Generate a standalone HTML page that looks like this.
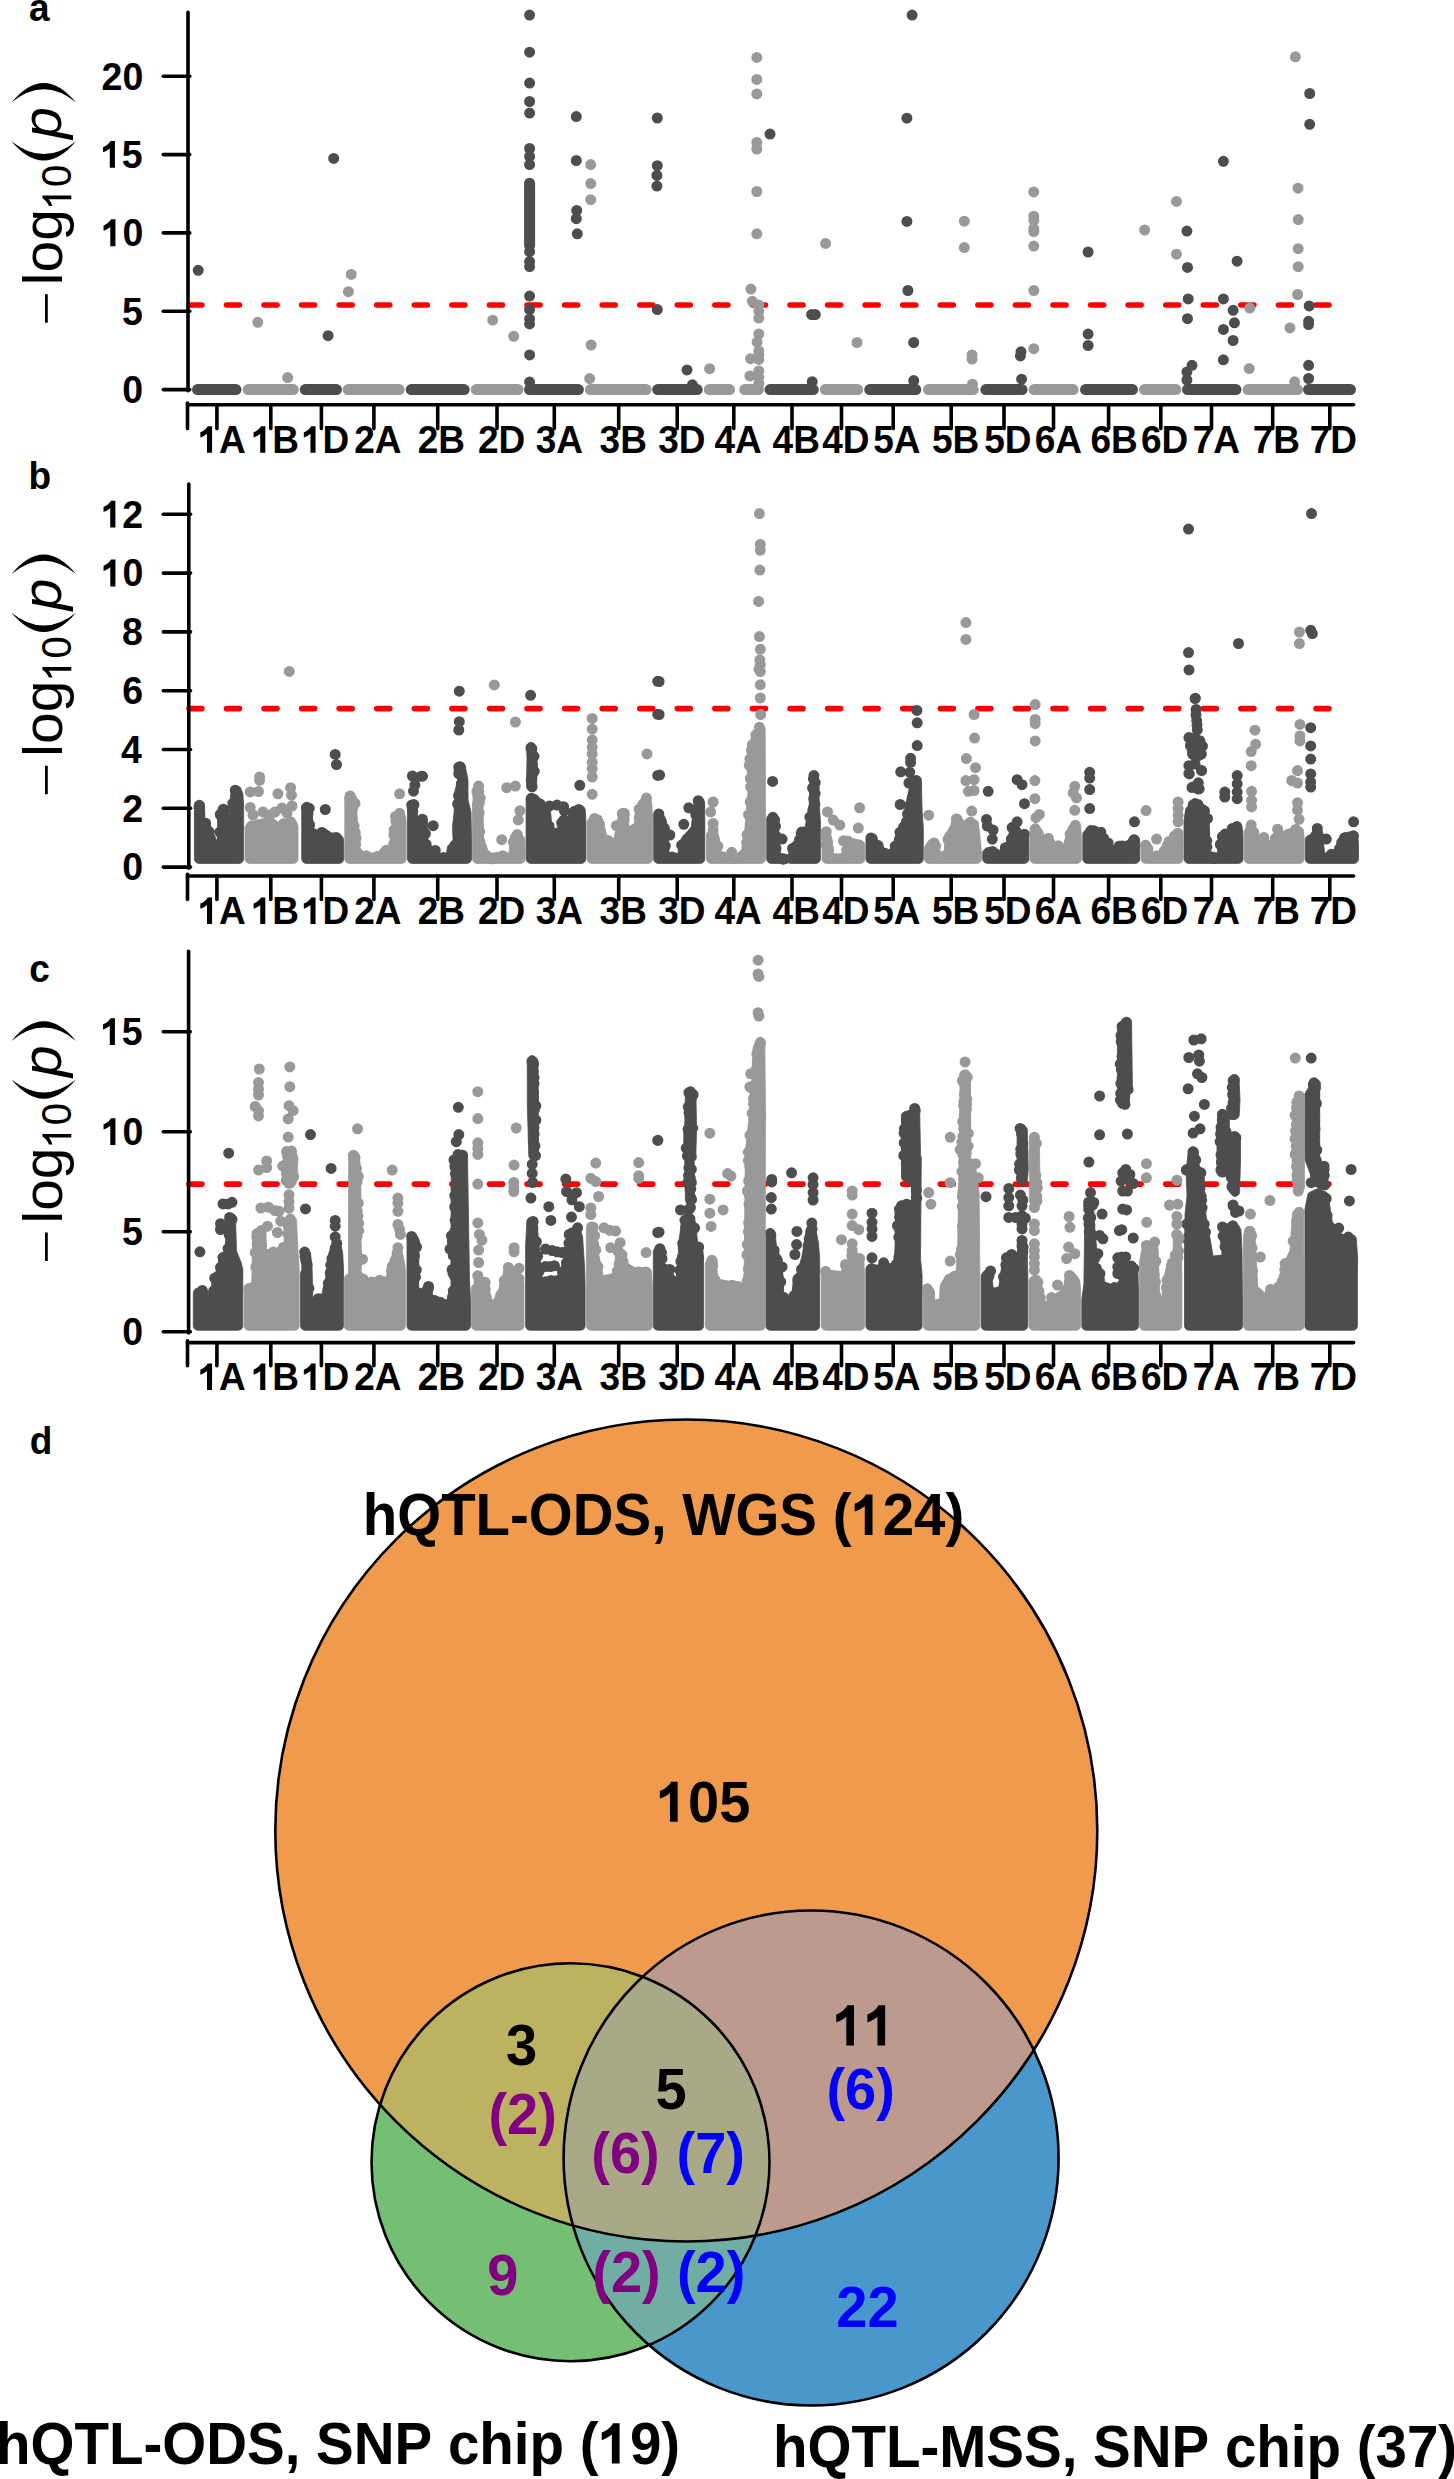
<!DOCTYPE html>
<html><head><meta charset="utf-8"><style>
html,body{margin:0;padding:0;background:#fff;}
svg{display:block;}
</style></head><body>
<svg width="1454" height="2479" viewBox="0 0 1454 2479">
<defs><path id="o1b" d="M759,0L478,0L478,1010C400,935 260,860 110,815L110,1085C300,1150 450,1280 520,1409L759,1409Z"/><path id="o1r" d="M696,0L515,0L515,1100C430,1020 300,960 160,920L160,1090C330,1150 480,1270 560,1409L696,1409Z"/></defs>
<rect width="1454" height="2479" fill="#fff"/>
<line x1="188.9" y1="305.0" x2="1330" y2="305.0" stroke="#ff0000" stroke-width="5.6" stroke-dasharray="13 24.57" stroke-linecap="round"/>
<line x1="188.9" y1="708.6" x2="1330" y2="708.6" stroke="#ff0000" stroke-width="5.6" stroke-dasharray="13 24.57" stroke-linecap="round"/>
<line x1="188.9" y1="1184.1" x2="1330" y2="1184.1" stroke="#ff0000" stroke-width="5.6" stroke-dasharray="13 24.57" stroke-linecap="round"/>
<path d="M528.7,743.0 527.8,743.8 527.1,744.7 526.7,745.8 526.6,747.0 527.0,758.8 527.0,758.9 526.5,786.1 526.6,787.2 527.0,788.3 527.7,789.2 528.5,789.9 529.5,790.6 530.6,791.1 531.8,791.4 532.9,791.3 534.1,790.9 535.0,790.2 535.8,789.3 536.3,788.2 536.5,787.1 537.5,765.8 537.5,765.1 536.4,755.7 536.4,755.4 536.4,747.6 536.2,746.4 535.7,745.3 534.9,744.3 534.1,743.6 533.2,742.9 532.1,742.5 530.9,742.4 529.8,742.5ZM810.7,783.9 810.7,783.9 810.8,783.8 810.8,783.8 811.7,783.1 811.8,783.1 811.8,783.1 811.8,783.0 812.9,782.6 813.0,782.6 813.0,782.6 813.0,782.6 814.2,782.4 814.2,782.4 814.3,782.4 814.3,782.4 815.5,782.6 815.5,782.6 815.5,782.6 815.6,782.6 816.6,783.0 816.7,783.1 816.7,783.1 816.8,783.1 817.7,783.8 817.7,783.8 817.7,783.9 817.8,783.9 818.5,784.8 818.5,784.8 818.5,784.9 818.6,784.9 818.7,785.2 818.4,773.9 810.1,773.9 809.8,785.2 809.9,784.9 810.0,784.9 810.0,784.8 810.0,784.8ZM412.0,801.2 410.9,801.4 409.8,801.9 409.0,802.6 408.3,803.5 408.1,804.0 407.6,805.0 407.5,806.2 407.5,858.9 407.7,860.1 408.1,861.1 408.8,862.1 409.8,862.8 410.8,863.2 412.0,863.4 467.0,863.4 468.2,863.2 469.2,862.8 470.2,862.1 470.9,861.1 471.3,860.1 471.5,858.9 471.5,840.0 471.5,840.0 471.0,812.5 470.9,811.5 468.0,800.1 468.0,800.0 468.0,799.9 468.0,780.4 467.9,779.6 466.0,770.0 466.0,770.0 465.5,766.7 465.2,765.6 464.6,764.7 463.8,763.9 462.9,763.3 461.8,763.0 461.1,762.9 459.8,762.8 458.5,763.2 457.4,763.9 456.3,764.8 455.6,765.7 455.1,766.7 454.8,767.7 454.2,773.1 454.2,774.3 454.6,775.5 455.2,776.5 457.9,779.9 458.0,780.0 458.0,780.1 455.2,789.4 455.0,790.6 454.5,807.9 454.5,808.1 453.5,818.0 453.5,818.0 452.5,825.6 452.5,826.4 453.0,839.9 453.0,840.0 452.9,840.1 451.1,842.9 451.0,843.0 450.9,843.1 448.8,844.9 448.1,845.7 447.5,846.6 447.3,847.7 446.5,853.4 446.5,853.5 446.4,853.5 440.1,853.5 440.0,853.5 440.0,853.4 438.1,849.4 437.5,848.4 436.6,847.6 435.5,847.0 434.4,846.8 431.1,846.5 431.0,846.5 431.0,846.4 430.7,843.9 430.4,842.7 429.9,841.7 429.0,840.8 428.1,840.1 428.0,840.0 428.0,839.9 427.5,822.6 427.3,821.5 426.5,818.6 426.1,817.6 425.4,816.7 424.5,816.0 423.5,815.6 422.4,815.4 421.3,815.5 420.2,815.8 419.3,816.5 417.6,817.9 417.5,818.0 417.5,817.9 417.2,806.8 416.9,805.2 416.4,804.1 415.9,803.1 415.1,802.3 414.2,801.7 413.1,801.3ZM777.0,816.0 776.3,814.9 775.4,814.0 775.1,813.8 774.0,813.3 772.8,813.1 771.7,813.2 770.5,813.6 769.6,814.3 768.2,815.5 767.4,816.5 766.9,817.6 766.7,818.8 766.7,858.9 766.9,860.1 767.3,861.1 768.0,862.1 769.0,862.8 770.0,863.2 771.2,863.4 786.2,863.4 787.4,863.2 788.4,862.8 789.3,863.2 790.5,863.4 815.9,863.4 817.0,863.2 818.1,862.8 819.0,862.1 819.8,861.1 820.2,860.1 820.4,858.9 820.4,820.3 820.3,820.0 819.2,803.7 819.2,803.6 818.7,787.3 818.6,786.2 818.1,785.1 817.4,784.2 816.5,783.5 815.4,783.1 814.2,782.9 813.1,783.1 812.0,783.5 811.1,784.2 810.4,785.1 809.9,786.2 809.7,787.3 809.3,803.6 809.3,803.6 809.3,803.7 805.2,826.6 805.2,826.7 805.1,826.8 801.1,827.8 800.0,828.2 799.0,828.9 798.3,829.8 797.8,830.9 795.3,839.8 795.3,839.9 795.2,840.0 791.3,843.9 790.5,845.0 790.1,846.3 788.7,854.7 788.7,854.8 788.5,854.9 788.4,855.0 788.2,854.9 787.1,854.5 780.5,853.2 780.4,853.2 780.4,853.0 778.8,830.1 778.7,830.0 777.3,817.3ZM203.2,802.1 202.7,801.6 201.7,800.9 200.7,800.4 199.5,800.3 198.4,800.4 197.3,800.9 196.3,801.5 195.8,802.1 195.0,803.0 194.6,804.1 194.4,805.3 194.4,858.9 194.6,860.1 195.0,861.1 195.7,862.1 196.7,862.8 197.7,863.2 198.9,863.4 239.1,863.4 240.3,863.2 241.4,862.8 242.3,862.1 243.0,861.1 243.4,860.1 243.6,858.9 243.6,805.2 243.6,804.9 242.9,793.9 242.6,792.7 242.1,791.5 241.2,790.6 238.3,788.4 237.2,787.8 236.1,787.5 234.8,787.5 233.7,787.8 232.6,788.5 231.8,789.4 231.3,790.5 231.0,791.7 229.6,818.2 229.6,818.2 229.6,818.2 228.4,811.3 228.1,810.1 227.4,809.1 225.9,807.2 225.0,806.4 223.9,805.9 222.7,805.7 221.5,805.8 220.4,806.2 219.4,806.8 218.6,807.8 218.1,808.9 217.9,810.1 217.2,842.9 217.2,843.0 217.1,842.9 211.5,829.9 211.4,829.8 211.4,829.7 210.1,823.4 209.7,822.3 209.1,821.3 208.2,820.5 204.9,818.3 204.8,818.3 204.8,818.2 204.5,805.2 204.3,804.1 203.9,803.0ZM549.3,808.9 545.5,805.1 545.5,805.1 545.4,805.0 542.5,800.7 541.6,799.7 535.6,794.8 534.4,794.2 533.1,793.9 531.8,794.0 529.7,794.4 528.6,794.8 527.6,795.5 526.8,796.5 526.3,797.6 526.1,798.8 526.1,858.9 526.3,860.1 526.7,861.1 527.5,862.1 528.4,862.8 529.5,863.2 530.6,863.4 581.4,863.4 582.6,863.2 583.6,862.8 584.6,862.1 585.3,861.1 585.7,860.1 585.9,858.9 585.9,821.7 585.9,821.5 585.3,810.0 585.0,808.9 584.6,807.9 583.8,807.0 582.9,806.3 581.9,805.9 579.9,805.4 578.5,805.3 577.1,805.6 572.5,807.5 571.5,808.0 570.7,808.8 570.1,809.7 569.7,810.8 568.6,816.5 568.6,816.6 568.5,816.6 564.5,816.6 562.8,816.9 562.1,817.2 561.0,817.9 560.1,818.7 559.5,819.8 559.3,821.0 558.7,828.1 558.7,828.2 558.5,828.2 552.2,828.2 552.1,828.2 552.0,828.1 550.6,811.6 550.3,810.6 549.9,809.7ZM665.4,817.9 662.5,813.1 661.8,812.2 661.0,811.5 660.0,811.0 658.9,810.8 657.8,810.9 656.8,811.2 655.8,811.8 655.3,812.2 654.4,813.2 653.8,814.4 653.6,815.7 653.6,858.9 653.8,860.1 654.2,861.1 654.9,862.1 655.9,862.8 657.0,863.2 658.1,863.4 700.3,863.4 701.5,863.2 702.6,862.8 703.5,862.1 704.2,861.1 704.7,860.1 704.8,858.9 704.8,820.2 704.8,820.1 704.5,802.2 704.3,801.0 703.9,800.0 703.2,799.0 702.1,798.0 701.1,797.2 700.0,796.8 698.8,796.7 697.6,796.9 696.5,797.4 696.3,797.5 695.3,798.4 694.7,799.5 694.3,800.7 691.3,826.6 691.3,826.7 691.2,826.8 684.7,835.0 684.6,835.0 679.9,840.5 679.1,841.7 678.8,843.1 678.1,853.0 678.1,853.2 677.9,853.2 669.1,853.2 669.0,853.2 669.0,853.0 668.2,828.9 668.0,827.9 665.8,819.1ZM310.3,803.8 309.3,803.0 308.2,802.5 307.0,802.2 305.8,802.3 304.6,802.7 303.6,803.3 303.2,803.7 302.4,804.7 301.9,805.8 301.7,807.1 301.7,858.9 301.9,860.1 302.3,861.1 303.0,862.1 304.0,862.8 305.0,863.2 306.2,863.4 339.3,863.4 340.5,863.2 341.5,862.8 342.5,862.1 343.2,861.1 343.6,860.1 343.8,858.9 343.8,846.4 343.8,846.2 343.5,839.6 343.4,838.7 343.0,837.7 342.5,836.9 340.1,834.1 339.3,833.4 338.3,832.9 337.2,832.6 336.1,832.6 332.0,833.1 331.9,833.1 331.8,833.1 325.1,828.6 324.0,828.0 322.8,827.8 321.5,827.9 320.4,828.4 319.4,829.1 317.1,831.4 317.1,831.5 317.0,831.4 313.0,828.2 312.9,828.2 312.9,828.1 312.2,807.3 311.9,805.9 311.3,804.7ZM529.8,1056.3 529.5,1056.5 528.6,1057.2 527.9,1058.1 527.4,1059.2 527.3,1060.4 527.3,1104.0 527.3,1104.1 528.8,1155.8 529.0,1156.9 529.5,1158.0 530.2,1158.9 531.1,1159.6 532.2,1160.0 533.3,1160.2 533.5,1160.2 534.8,1160.0 535.9,1159.5 536.9,1158.7 537.4,1158.2 538.0,1157.3 538.4,1156.2 538.5,1155.1 538.0,1061.4 537.9,1060.2 537.4,1059.1 536.6,1058.1 535.2,1056.9 534.3,1056.2 533.2,1055.8 532.0,1055.6 530.9,1055.8ZM683.8,1158.7 684.6,1159.6 684.7,1159.6 684.7,1159.7 685.4,1200.2 685.6,1201.2 686.0,1202.2 686.6,1203.1 687.4,1203.8 687.6,1203.9 688.6,1204.4 689.8,1204.6 691.1,1204.5 692.2,1204.1 693.2,1203.4 693.9,1202.4 694.4,1201.3 694.5,1200.1 694.2,1161.3 694.2,1161.2 694.3,1161.2 695.1,1160.3 695.9,1159.2 696.3,1158.0 696.3,1156.7 695.9,1153.2 695.9,1152.8 696.5,1131.6 696.6,1131.5 696.6,1131.4 697.2,1130.4 697.7,1129.4 697.9,1128.2 697.7,1127.1 697.4,1126.0 696.7,1125.1 696.6,1124.9 696.5,1124.8 695.9,1093.3 695.7,1091.9 695.1,1090.7 694.2,1089.8 693.0,1088.9 692.0,1088.3 691.0,1088.0 689.9,1088.0 688.8,1088.2 687.8,1088.7 687.4,1089.0 686.6,1089.7 686.0,1090.5 685.6,1091.5 685.4,1092.6 684.7,1125.6 684.7,1125.8 684.6,1125.8 683.8,1126.7 683.3,1127.8 683.1,1129.1 683.3,1130.3 683.8,1131.4 683.8,1131.5 683.8,1131.6 683.8,1152.9 683.8,1153.0 683.7,1153.1 683.1,1154.2 682.8,1155.3 682.8,1156.6 683.1,1157.7ZM868.0,1265.0 867.1,1265.9 866.5,1266.9 866.2,1267.7 865.9,1269.4 865.9,1325.8 866.1,1327.0 866.5,1328.0 867.2,1329.0 868.2,1329.7 869.2,1330.1 870.4,1330.3 917.6,1330.3 918.8,1330.1 919.9,1329.7 920.8,1329.0 921.5,1328.0 922.0,1327.0 922.1,1325.8 922.1,1275.4 922.1,1274.9 920.5,1258.8 920.5,1258.5 921.3,1158.5 921.2,1157.4 920.5,1154.8 920.5,1154.6 920.5,1154.5 919.7,1110.6 919.5,1109.4 919.0,1108.3 918.3,1107.3 917.3,1106.6 916.1,1106.2 914.9,1106.1 913.8,1106.4 912.7,1106.9 911.8,1107.7 909.8,1110.0 909.8,1110.1 909.7,1110.1 904.3,1112.2 903.4,1112.8 902.6,1113.5 902.0,1114.4 901.6,1115.4 901.5,1116.4 901.5,1177.2 901.7,1178.5 902.2,1179.6 903.0,1180.6 904.1,1181.3 905.3,1181.7 911.3,1182.7 911.4,1182.7 911.4,1182.8 911.4,1202.4 911.4,1202.5 911.3,1202.5 901.1,1203.8 899.9,1204.1 898.8,1204.8 897.9,1205.8 897.4,1207.0 895.9,1211.8 895.7,1213.0 894.9,1251.9 894.9,1252.2 893.3,1263.5 893.2,1263.6 893.1,1263.6 886.5,1263.6 886.4,1263.6 886.3,1263.5 885.0,1263.0 883.9,1262.6 882.8,1262.6 881.7,1262.8 880.7,1263.3 877.9,1265.2 877.8,1265.2 877.7,1265.2 871.5,1264.2 870.3,1264.1 869.1,1264.4ZM417.2,1236.1 416.5,1235.0 415.5,1234.2 414.4,1233.7 413.1,1233.5 412.4,1233.5 411.3,1233.6 410.3,1234.0 409.4,1234.7 408.7,1235.5 407.8,1236.9 407.2,1238.1 407.0,1239.4 407.0,1325.8 407.2,1327.0 407.6,1328.0 408.3,1329.0 409.2,1329.7 410.3,1330.1 411.5,1330.3 466.0,1330.3 467.2,1330.1 468.2,1329.7 469.2,1329.0 469.9,1328.0 470.3,1327.0 470.5,1325.8 470.5,1300.1 470.5,1299.9 469.5,1280.0 469.5,1280.0 467.5,1156.0 467.3,1154.7 466.8,1153.5 465.9,1152.6 464.7,1151.9 461.2,1150.5 460.0,1150.2 458.7,1150.3 457.4,1150.5 456.3,1150.9 455.4,1151.5 454.6,1152.3 454.1,1153.2 451.6,1159.2 451.3,1160.9 451.0,1228.9 451.0,1229.0 450.9,1229.1 448.1,1233.9 447.7,1235.0 447.5,1236.2 447.5,1248.9 447.6,1250.0 448.0,1251.0 451.0,1256.9 451.0,1257.0 451.0,1257.1 451.0,1265.9 451.0,1266.0 451.0,1266.1 448.4,1271.9 448.1,1272.9 448.0,1274.0 448.2,1275.0 448.7,1276.0 450.9,1279.9 451.0,1280.0 451.0,1280.1 451.0,1286.9 451.0,1287.0 451.0,1287.1 448.1,1294.7 447.9,1295.4 446.5,1302.4 446.5,1302.5 446.4,1302.5 445.6,1302.9 445.5,1302.9 445.5,1302.8 445.2,1301.1 444.8,1299.9 444.1,1298.9 443.1,1298.1 442.0,1297.6 440.7,1297.4 440.1,1297.4 440.0,1297.4 439.9,1297.4 436.1,1296.3 435.9,1296.3 432.6,1295.0 432.5,1295.0 432.5,1294.9 432.5,1287.6 432.3,1286.4 431.9,1285.3 431.2,1284.4 430.2,1283.6 429.1,1283.2 428.0,1283.1 426.8,1283.2 425.7,1283.7 424.8,1284.4 424.1,1285.4 423.6,1286.5 423.0,1288.9 423.0,1289.0 422.9,1289.0 418.7,1288.0 418.6,1288.0 418.6,1287.9 419.0,1241.0 418.9,1240.0 418.6,1239.1ZM303.3,1262.3 303.3,1262.3 304.1,1261.4 304.2,1261.4 304.2,1261.4 304.2,1261.3 305.3,1260.7 305.3,1260.7 305.3,1260.7 305.4,1260.7 306.5,1260.4 306.6,1260.4 306.6,1260.4 306.7,1260.4 307.9,1260.4 307.9,1260.4 307.9,1260.4 308.0,1260.4 309.1,1260.7 309.2,1260.8 309.2,1260.8 309.3,1260.8 310.3,1261.4 310.3,1261.4 310.3,1261.5 310.4,1261.5 311.2,1262.4 311.2,1262.4 311.3,1262.4 311.3,1262.5 311.5,1262.8 310.5,1252.6 304.7,1249.3 303.0,1262.7 303.2,1262.4 303.2,1262.3ZM205.3,1288.7 204.2,1288.2 203.1,1288.1 198.0,1288.1 196.9,1288.2 195.9,1288.6 195.0,1289.2 194.3,1290.0 193.8,1290.9 193.6,1291.4 193.3,1293.1 193.3,1325.8 193.4,1327.0 193.9,1328.0 194.6,1329.0 195.5,1329.7 196.6,1330.1 197.8,1330.3 238.3,1330.3 239.4,1330.1 240.5,1329.7 241.5,1329.0 242.2,1328.0 242.6,1327.0 242.8,1325.8 242.8,1269.7 242.6,1268.6 241.2,1262.8 241.0,1262.2 236.5,1251.0 236.5,1251.0 236.5,1250.9 235.5,1218.2 235.3,1217.0 234.8,1216.0 234.1,1215.1 233.2,1214.4 232.1,1214.0 231.0,1213.8 230.7,1213.8 229.5,1214.0 228.5,1214.4 227.5,1215.1 226.8,1216.0 226.3,1217.1 226.2,1218.2 225.4,1252.5 225.4,1252.6 225.3,1252.6 223.2,1252.6 222.0,1252.8 221.0,1253.2 220.0,1253.9 219.3,1254.8 218.9,1255.8 218.7,1256.9 218.0,1273.1 218.0,1273.2 217.9,1273.3 214.8,1274.6 213.7,1275.3 212.9,1276.2 212.3,1277.3 212.1,1278.5 211.1,1293.8 211.1,1293.9 211.0,1293.9 208.2,1293.9 208.1,1293.9 208.1,1293.8 207.4,1291.4 206.9,1290.3 206.2,1289.4ZM662.7,1247.4 661.8,1246.7 660.7,1246.3 659.6,1246.1 658.5,1246.0 657.5,1246.1 656.5,1246.5 655.6,1247.2 654.9,1248.0 654.1,1249.2 653.5,1250.4 653.3,1251.7 653.3,1325.8 653.5,1327.0 653.9,1328.0 654.6,1329.0 655.6,1329.7 656.6,1330.1 657.8,1330.3 699.1,1330.3 700.3,1330.1 701.4,1329.7 702.3,1329.0 703.0,1328.0 703.5,1327.0 703.6,1325.8 703.6,1258.8 703.6,1258.4 703.0,1250.9 702.7,1249.6 702.0,1248.4 701.0,1247.5 698.0,1245.5 697.9,1245.4 697.9,1245.3 696.3,1229.4 696.1,1228.4 692.5,1217.8 691.9,1216.6 691.1,1215.7 690.0,1215.0 688.7,1214.7 687.4,1214.8 685.4,1215.1 684.4,1215.5 683.4,1216.1 682.6,1216.9 682.1,1217.9 681.8,1219.0 678.9,1242.0 678.9,1242.3 677.2,1275.0 677.2,1275.1 677.2,1275.3 674.8,1281.6 674.8,1281.7 674.7,1281.6 672.4,1269.9 672.0,1268.7 671.3,1267.7 670.4,1266.9 669.3,1266.4 668.1,1266.2 666.9,1266.4 665.0,1266.9 664.9,1266.9 664.9,1266.8 664.2,1250.5 664.0,1249.4 663.5,1248.3ZM535.1,1218.0 534.0,1217.4 532.8,1217.1 531.6,1217.1 530.5,1217.3 529.4,1217.7 528.3,1218.3 527.5,1219.3 527.0,1220.3 526.8,1221.5 525.7,1244.2 525.6,1244.5 525.6,1325.8 525.8,1327.0 526.2,1328.0 527.0,1329.0 527.9,1329.7 529.0,1330.1 530.1,1330.3 580.6,1330.3 581.7,1330.1 582.8,1329.7 583.8,1329.0 584.5,1328.0 584.9,1327.0 585.1,1325.8 585.1,1285.7 585.1,1285.6 584.7,1269.2 584.7,1269.0 582.6,1236.8 582.3,1235.4 580.0,1229.9 579.5,1228.9 578.7,1228.2 577.8,1227.6 576.8,1227.2 575.7,1227.1 574.6,1227.3 569.9,1228.6 568.9,1229.1 568.1,1229.7 567.4,1230.6 566.9,1231.6 566.7,1232.6 565.3,1252.5 565.3,1252.6 565.2,1252.7 558.7,1275.6 558.7,1275.7 558.5,1275.7 542.3,1277.4 542.2,1277.4 542.1,1277.3 538.9,1242.7 536.8,1221.1 536.5,1219.9 535.9,1218.9ZM767.9,1229.2 767.1,1229.9 766.4,1230.8 766.0,1231.8 765.9,1233.0 765.9,1325.8 766.0,1327.0 766.5,1328.0 767.2,1329.0 768.1,1329.7 769.2,1330.1 770.4,1330.3 815.2,1330.3 816.4,1330.1 817.4,1329.7 818.4,1329.0 819.1,1328.0 819.5,1327.0 819.7,1325.8 819.7,1258.8 819.7,1258.5 818.4,1242.4 818.3,1241.9 815.8,1229.2 815.4,1228.1 814.7,1227.1 813.7,1226.3 812.6,1225.8 811.4,1225.6 810.7,1225.6 809.4,1225.8 808.3,1226.3 807.3,1227.1 806.6,1228.2 806.2,1229.4 801.9,1256.8 801.8,1257.1 796.9,1273.4 796.9,1273.5 796.8,1273.5 795.9,1274.0 794.9,1274.7 794.2,1275.5 793.6,1276.5 793.4,1277.7 791.1,1304.7 791.1,1304.8 791.1,1304.8 787.1,1298.3 787.0,1298.2 783.8,1291.8 783.7,1291.6 783.7,1291.5 782.1,1259.7 781.9,1258.7 781.5,1257.7 776.3,1248.8 776.3,1248.7 776.3,1248.6 775.5,1233.6 775.3,1232.3 774.6,1231.1 774.0,1230.3 773.2,1229.5 772.2,1228.9 771.2,1228.5 770.1,1228.5 769.0,1228.7ZM300.5,1325.8 300.7,1327.0 301.2,1328.0 301.9,1329.0 302.8,1329.7 303.9,1330.1 305.0,1330.3 339.0,1330.3 340.1,1330.1 341.2,1329.7 342.2,1329.0 342.9,1328.0 343.3,1327.0 343.5,1325.8 343.5,1269.2 343.5,1269.0 342.7,1253.0 342.6,1252.3 340.9,1244.6 340.5,1243.5 339.8,1242.5 338.9,1241.7 337.7,1241.2 336.5,1241.1 336.3,1241.1 335.1,1241.2 334.0,1241.7 333.0,1242.5 332.3,1243.5 330.6,1247.0 330.2,1248.4 326.1,1275.6 326.1,1275.8 322.0,1293.8 322.0,1293.9 321.9,1293.9 317.7,1295.0 316.7,1295.3 315.8,1296.0 315.1,1296.8 314.6,1297.7 313.0,1302.0 312.9,1302.1 312.9,1302.0 312.1,1269.3 312.1,1268.9 311.7,1264.9 311.4,1263.7 310.8,1262.7 310.0,1261.8 309.0,1261.2 307.9,1260.9 306.7,1260.9 305.5,1261.2 304.5,1261.8 303.6,1262.6 303.0,1263.6 302.7,1264.8 302.2,1269.0 302.2,1269.1 302.1,1269.2 301.0,1271.5 300.7,1272.4 300.5,1273.5ZM1192.3,733.8 1188.3,736.5 1187.3,737.3 1186.7,738.3 1186.3,739.5 1186.3,740.7 1187.7,755.3 1188.0,756.5 1188.6,757.5 1189.5,758.4 1190.5,759.0 1195.7,761.1 1196.8,761.4 1197.9,761.4 1199.0,761.1 1200.0,760.6 1203.1,758.3 1203.9,757.6 1204.5,756.7 1204.9,755.7 1205.0,754.7 1205.0,742.2 1204.8,740.8 1204.2,739.6 1203.3,738.6 1197.6,734.1 1196.6,733.5 1195.5,733.1 1194.4,733.1 1193.3,733.3ZM866.1,860.1 866.5,861.1 867.2,862.1 868.2,862.8 869.2,863.2 870.4,863.4 918.8,863.4 920.0,863.2 921.0,862.8 922.0,862.1 922.7,861.1 923.1,860.1 923.3,858.9 923.3,827.8 923.3,827.4 922.1,811.1 922.1,811.0 921.4,782.5 921.2,781.3 920.8,780.3 920.1,779.4 919.1,778.7 918.1,778.2 916.9,778.1 915.1,778.1 913.9,778.3 912.8,778.7 911.8,779.5 911.1,780.5 910.7,781.7 909.8,786.3 909.8,786.4 904.9,807.6 904.8,808.0 903.2,820.9 903.2,821.0 903.1,821.1 898.6,827.0 898.0,828.3 895.0,837.3 894.9,837.7 891.6,850.6 891.6,850.7 891.5,850.7 890.1,851.1 890.0,851.1 890.0,851.0 889.3,850.2 888.4,849.5 887.4,849.1 884.5,848.2 884.4,848.2 884.3,848.1 877.9,840.0 877.7,839.9 874.9,836.6 874.0,835.8 873.0,835.3 871.9,835.1 870.7,835.1 869.6,835.5 868.7,836.1 867.6,836.9 866.7,837.9 866.1,839.1 865.9,840.4 865.9,858.9ZM1205.8,808.6 1205.2,807.9 1200.6,803.3 1199.6,802.6 1198.5,802.1 1197.4,802.0 1193.6,802.0 1192.4,802.1 1191.3,802.6 1190.4,803.3 1189.7,804.2 1185.6,811.1 1185.1,812.8 1184.1,819.8 1184.0,820.5 1184.0,858.9 1184.2,860.1 1184.7,861.1 1185.4,862.1 1186.3,862.8 1187.4,863.2 1188.5,863.4 1238.5,863.4 1239.6,863.2 1240.7,862.8 1241.7,862.1 1242.4,861.1 1242.8,860.1 1243.0,858.9 1243.0,836.8 1243.0,836.5 1242.5,829.4 1242.4,828.4 1242.0,827.5 1240.7,825.1 1239.9,824.1 1238.9,823.3 1237.8,822.9 1236.5,822.8 1235.3,823.0 1234.7,823.2 1233.3,823.9 1225.7,830.0 1225.6,830.1 1219.6,835.4 1218.9,836.3 1218.3,837.4 1218.1,838.5 1217.4,853.0 1217.4,853.2 1217.3,853.1 1210.1,851.5 1210.0,851.5 1210.0,851.4 1209.2,817.7 1208.8,816.1 1206.2,809.4ZM988.0,847.7 986.9,847.9 985.8,848.5 984.6,849.4 983.8,850.1 983.2,851.0 982.8,852.0 982.7,853.0 982.7,858.9 982.9,860.1 983.3,861.1 984.0,862.1 985.0,862.8 986.1,863.2 987.2,863.4 1024.4,863.4 1025.6,863.2 1026.7,862.8 1027.6,862.1 1028.3,861.1 1028.8,860.1 1028.9,858.9 1028.9,844.2 1028.9,844.1 1028.7,835.3 1028.5,834.2 1028.1,833.1 1027.4,832.2 1026.4,831.5 1025.4,831.1 1024.2,830.9 1022.1,830.9 1022.0,830.9 1021.9,830.8 1019.3,827.3 1018.4,826.4 1017.3,825.8 1016.1,825.5 1014.9,825.6 1013.7,826.0 1012.3,826.7 1011.2,827.4 1010.4,828.4 1010.0,829.6 1007.2,840.7 1007.1,840.8 1007.1,840.9 1003.9,845.8 1000.6,850.6 1000.5,850.7 1000.5,850.7 997.9,849.4 996.6,849.0 989.2,847.7ZM1091.0,826.4 1089.9,826.6 1088.8,827.0 1087.9,827.7 1084.2,831.2 1083.4,832.2 1082.9,833.3 1082.8,834.5 1082.8,858.9 1082.9,860.1 1083.4,861.1 1084.1,862.1 1085.0,862.8 1086.1,863.2 1087.3,863.4 1135.3,863.4 1136.5,863.2 1137.6,862.8 1138.5,862.1 1139.2,861.1 1139.7,860.1 1139.8,858.9 1139.8,845.0 1139.8,844.8 1139.6,840.2 1139.4,839.0 1138.8,837.9 1138.1,837.0 1137.1,836.2 1136.3,835.6 1135.3,835.2 1134.2,835.1 1133.1,835.2 1132.1,835.5 1131.2,836.0 1130.1,836.8 1129.2,838.0 1128.3,839.9 1128.3,839.9 1128.2,840.0 1125.1,841.6 1125.0,841.6 1124.8,841.6 1123.5,841.1 1122.4,840.9 1121.3,841.0 1120.2,841.3 1120.0,841.4 1119.8,841.4 1119.8,841.4 1119.0,841.3 1117.8,841.5 1116.8,841.9 1115.9,842.6 1115.2,843.5 1112.9,847.3 1112.8,847.4 1112.8,847.3 1109.7,839.6 1109.2,838.8 1103.9,830.7 1103.1,829.9 1102.2,829.2 1101.2,828.8 1092.1,826.6ZM1305.7,837.7 1305.3,838.7 1305.2,839.8 1305.2,858.9 1305.4,860.1 1305.8,861.1 1306.5,862.1 1307.5,862.8 1308.5,863.2 1309.7,863.4 1354.0,863.4 1355.2,863.2 1356.3,862.8 1357.2,862.1 1357.9,861.1 1358.4,860.1 1358.5,858.9 1358.5,845.1 1358.5,844.7 1357.9,836.6 1357.7,835.5 1357.2,834.5 1356.5,833.6 1355.6,833.0 1354.5,832.6 1352.0,831.9 1351.1,831.8 1350.2,831.9 1343.6,832.9 1342.5,833.3 1341.6,833.8 1340.8,834.6 1340.2,835.6 1336.3,844.8 1336.2,845.0 1333.0,851.4 1332.9,851.5 1332.8,851.5 1324.8,853.1 1324.7,853.2 1324.7,853.0 1322.3,834.3 1322.1,833.4 1321.7,832.5 1320.7,830.8 1319.9,829.9 1318.9,829.1 1317.7,828.7 1316.4,828.7 1315.2,828.9 1314.1,829.6 1313.2,830.4 1309.9,834.9 1309.8,835.0 1309.7,835.0 1308.2,835.6 1307.2,836.1 1306.4,836.8ZM1123.0,1020.2 1119.4,1022.9 1118.6,1023.6 1118.0,1024.5 1117.6,1025.5 1117.5,1026.5 1117.5,1103.9 1117.7,1105.1 1118.1,1106.2 1118.8,1107.1 1119.8,1107.8 1120.9,1108.3 1122.0,1108.4 1124.8,1108.4 1125.9,1108.3 1127.0,1107.9 1127.9,1107.2 1128.6,1106.3 1129.1,1105.3 1129.3,1104.2 1129.9,1093.7 1129.9,1093.6 1129.9,1093.5 1132.1,1087.8 1132.4,1086.1 1131.6,1025.7 1131.3,1024.3 1130.7,1023.1 1129.3,1021.2 1128.5,1020.3 1127.5,1019.7 1126.3,1019.4 1125.2,1019.4 1124.0,1019.7ZM1232.3,1119.3 1233.4,1119.6 1234.6,1119.6 1235.7,1119.3 1236.3,1119.1 1237.4,1118.4 1238.3,1117.5 1238.9,1116.4 1239.2,1115.1 1240.0,1100.2 1240.0,1099.8 1239.1,1079.7 1238.9,1078.7 1238.4,1077.6 1237.8,1076.8 1237.8,1076.8 1236.9,1076.1 1235.9,1075.6 1234.8,1075.4 1233.7,1075.5 1232.6,1075.9 1231.7,1076.5 1230.9,1077.3 1229.8,1078.8 1229.2,1080.1 1229.0,1081.4 1229.0,1115.0 1229.1,1116.0 1229.5,1117.0 1230.1,1117.9 1230.9,1118.6 1231.8,1119.1ZM1318.2,1082.3 1318.0,1082.1 1317.0,1081.5 1316.0,1081.2 1314.9,1081.1 1313.8,1081.2 1312.8,1081.7 1311.9,1082.3 1311.2,1083.2 1305.5,1092.5 1305.0,1093.6 1304.9,1094.8 1304.9,1158.8 1305.2,1160.4 1309.7,1172.6 1309.9,1173.0 1316.8,1186.8 1317.5,1187.8 1318.5,1188.6 1319.6,1189.1 1320.9,1189.3 1323.5,1189.3 1324.7,1189.2 1325.7,1188.7 1326.7,1188.0 1327.4,1187.1 1327.8,1186.0 1328.0,1184.8 1328.0,1168.4 1327.8,1167.0 1327.2,1165.8 1326.3,1164.8 1319.8,1159.7 1319.7,1159.6 1319.7,1159.5 1319.7,1085.7 1319.6,1084.5 1319.0,1083.3ZM1229.0,1191.3 1231.5,1194.6 1232.4,1195.5 1233.4,1196.1 1234.6,1196.4 1235.8,1196.4 1237.0,1196.0 1238.0,1195.3 1238.9,1194.4 1239.4,1193.3 1239.6,1192.1 1240.5,1160.1 1240.5,1159.9 1240.5,1137.0 1240.3,1135.8 1239.8,1134.6 1239.0,1133.7 1238.6,1133.3 1237.6,1132.6 1236.5,1132.3 1235.3,1132.2 1234.2,1132.4 1233.1,1132.9 1231.9,1133.7 1231.1,1134.4 1230.5,1135.3 1230.1,1136.2 1229.9,1137.3 1229.8,1139.4 1229.8,1139.5 1229.8,1139.4 1229.1,1118.2 1229.1,1118.0 1229.1,1117.8 1229.1,1117.8 1229.2,1117.0 1228.9,1115.8 1228.4,1114.7 1227.6,1113.8 1226.0,1112.5 1224.9,1111.8 1223.7,1111.5 1222.4,1111.5 1221.2,1111.9 1220.1,1112.6 1218.9,1113.7 1218.2,1114.6 1217.6,1115.7 1217.5,1116.9 1217.0,1140.0 1217.0,1140.0 1217.0,1172.2 1217.2,1173.4 1217.7,1174.6 1218.5,1175.5 1219.6,1176.2 1220.8,1176.6 1222.2,1176.9 1223.8,1176.8 1224.6,1176.7 1225.7,1176.3 1226.7,1175.6 1227.5,1174.8 1228.0,1173.7 1228.2,1172.6 1229.0,1161.1 1229.0,1161.1 1229.0,1161.1 1228.1,1188.4 1228.1,1189.4 1228.4,1190.4ZM1019.3,1125.2 1018.3,1125.9 1017.6,1126.8 1017.2,1127.9 1017.1,1129.0 1017.1,1180.3 1017.2,1181.4 1017.6,1182.4 1018.2,1183.3 1019.1,1184.0 1019.5,1184.3 1020.7,1184.9 1022.0,1185.1 1023.3,1184.9 1024.5,1184.3 1025.2,1183.9 1026.2,1183.0 1026.9,1181.9 1027.2,1180.6 1028.3,1169.8 1028.3,1169.2 1027.3,1130.1 1027.2,1128.9 1026.7,1127.9 1025.9,1126.9 1024.6,1125.7 1023.7,1125.1 1022.6,1124.6 1021.5,1124.5 1020.3,1124.7ZM1085.7,1216.1 1085.7,1216.1 1086.5,1215.2 1086.6,1215.1 1086.6,1215.1 1086.6,1215.1 1087.7,1214.5 1087.7,1214.4 1087.8,1214.4 1087.8,1214.4 1089.0,1214.1 1089.0,1214.1 1089.1,1214.1 1089.1,1214.1 1090.4,1214.1 1090.4,1214.1 1090.4,1214.1 1090.5,1214.1 1091.7,1214.4 1091.7,1214.4 1091.8,1214.5 1091.8,1214.5 1092.8,1215.1 1092.9,1215.1 1092.9,1215.2 1092.9,1215.2 1093.8,1216.1 1093.8,1216.1 1093.8,1216.2 1093.9,1216.2 1094.1,1216.7 1093.0,1199.2 1086.4,1202.5 1085.4,1216.6 1085.6,1216.2 1085.6,1216.1ZM1196.8,1148.8 1196.4,1148.4 1195.4,1147.6 1194.3,1147.2 1193.1,1147.0 1191.9,1147.2 1190.8,1147.7 1189.8,1148.5 1189.5,1148.9 1188.7,1150.1 1188.3,1151.4 1186.0,1171.6 1186.0,1172.4 1187.0,1194.8 1187.0,1195.2 1185.0,1214.8 1185.0,1215.2 1184.5,1250.0 1184.5,1250.0 1184.5,1325.8 1184.7,1327.0 1185.1,1328.0 1185.8,1329.0 1186.8,1329.7 1187.8,1330.1 1189.0,1330.3 1238.0,1330.3 1239.2,1330.1 1240.2,1329.7 1241.2,1329.0 1241.9,1328.0 1242.3,1327.0 1242.5,1325.8 1242.5,1300.0 1242.5,1300.0 1242.0,1250.1 1242.0,1249.9 1241.0,1230.9 1240.9,1230.0 1240.6,1229.2 1239.0,1226.0 1238.4,1225.2 1237.7,1224.4 1236.8,1223.9 1235.7,1223.6 1232.7,1223.1 1231.3,1223.1 1226.3,1223.9 1225.7,1224.1 1223.3,1224.9 1222.2,1225.4 1221.4,1226.2 1220.7,1227.2 1220.3,1228.3 1220.2,1229.5 1222.0,1254.9 1222.0,1255.0 1221.9,1255.0 1213.1,1256.0 1213.0,1256.0 1213.0,1255.9 1212.0,1250.0 1212.0,1250.0 1206.0,1215.1 1206.0,1214.9 1205.0,1200.0 1205.0,1200.0 1204.0,1174.2 1203.8,1173.0 1203.4,1172.0 1199.1,1165.1 1199.0,1165.0 1199.0,1164.9 1198.1,1151.7 1197.9,1150.6 1197.5,1149.7ZM1328.0,1194.2 1327.4,1193.1 1326.4,1192.3 1325.3,1191.7 1319.5,1189.8 1318.1,1189.5 1316.7,1189.8 1310.7,1191.8 1309.6,1192.3 1308.7,1193.1 1308.0,1194.1 1307.7,1195.2 1305.0,1208.7 1304.9,1209.6 1304.9,1325.8 1305.0,1327.0 1305.5,1328.0 1306.2,1329.0 1307.1,1329.7 1308.2,1330.1 1309.4,1330.3 1352.9,1330.3 1354.0,1330.1 1355.1,1329.7 1356.1,1329.0 1356.8,1328.0 1357.2,1327.0 1357.4,1325.8 1357.4,1275.2 1357.4,1275.1 1357.7,1258.8 1357.7,1258.4 1356.3,1238.9 1356.1,1237.8 1355.5,1236.8 1354.8,1235.9 1353.8,1235.2 1352.7,1234.9 1349.0,1234.1 1347.8,1234.0 1346.7,1234.3 1343.0,1235.5 1342.8,1235.5 1342.7,1235.5 1334.7,1232.3 1334.6,1232.2 1334.6,1232.1 1331.3,1217.5 1331.3,1217.3 1328.4,1195.4ZM1120.1,1276.1 1120.2,1276.1 1120.8,1275.2 1120.8,1275.1 1120.9,1275.1 1120.9,1275.1 1121.8,1274.4 1121.8,1274.3 1121.8,1274.3 1121.9,1274.3 1122.9,1273.8 1122.9,1273.8 1123.0,1273.8 1123.0,1273.8 1124.1,1273.6 1124.2,1273.6 1124.2,1273.6 1124.3,1273.6 1125.4,1273.6 1125.4,1273.6 1125.5,1273.6 1125.5,1273.7 1126.6,1274.0 1126.6,1274.0 1126.7,1274.0 1126.7,1274.1 1127.0,1274.3 1127.1,1273.0 1125.0,1258.6 1120.0,1255.3 1120.0,1276.4 1120.1,1276.2 1120.1,1276.2ZM1089.1,1214.6 1087.9,1214.9 1086.9,1215.5 1086.1,1216.4 1085.5,1217.5 1085.2,1218.7 1084.7,1225.5 1084.7,1225.7 1083.9,1283.3 1083.9,1283.5 1081.8,1299.6 1081.8,1300.2 1081.8,1325.8 1081.9,1327.0 1082.4,1328.0 1083.1,1329.0 1084.0,1329.7 1085.1,1330.1 1086.3,1330.3 1134.0,1330.3 1135.2,1330.1 1136.2,1329.7 1137.2,1329.0 1137.9,1328.0 1138.3,1327.0 1138.5,1325.8 1138.5,1291.7 1138.5,1291.6 1137.9,1268.6 1137.7,1267.5 1137.3,1266.5 1136.7,1265.6 1135.8,1264.8 1135.0,1264.0 1133.9,1263.5 1132.8,1263.3 1131.6,1263.4 1130.5,1263.8 1129.6,1264.4 1128.8,1265.3 1128.3,1266.3 1128.1,1267.5 1127.4,1275.0 1127.4,1275.1 1127.4,1275.1 1126.4,1274.5 1125.4,1274.1 1124.2,1274.1 1123.1,1274.3 1122.1,1274.7 1121.2,1275.5 1120.6,1276.4 1120.1,1277.4 1120.0,1278.6 1120.0,1284.9 1120.0,1285.0 1119.9,1285.0 1112.9,1285.0 1112.8,1285.0 1112.7,1285.0 1104.6,1281.8 1104.5,1281.7 1104.5,1281.6 1101.4,1269.3 1100.8,1267.9 1098.0,1263.7 1097.9,1263.6 1097.9,1263.5 1094.6,1225.6 1094.6,1225.6 1094.2,1218.7 1094.0,1217.5 1093.4,1216.4 1092.6,1215.5 1091.5,1214.9 1090.4,1214.6ZM989.5,1270.7 989.3,1270.6 988.2,1270.1 987.1,1270.0 986.0,1270.1 985.0,1270.5 984.1,1271.1 983.3,1271.9 981.9,1274.0 981.3,1275.2 981.1,1276.6 981.1,1325.8 981.2,1327.0 981.7,1328.0 982.4,1329.0 983.3,1329.7 984.4,1330.1 985.6,1330.3 1023.3,1330.3 1024.5,1330.1 1025.5,1329.7 1026.5,1329.0 1027.2,1328.0 1027.6,1327.0 1027.8,1325.8 1027.8,1275.2 1027.8,1275.1 1027.1,1246.5 1026.9,1245.4 1026.4,1244.3 1025.7,1243.4 1024.8,1242.7 1023.7,1242.3 1022.6,1242.1 1022.1,1242.1 1021.0,1242.3 1019.9,1242.7 1019.0,1243.3 1018.3,1244.2 1017.8,1245.2 1017.6,1246.3 1017.1,1255.2 1017.1,1255.3 1017.0,1255.3 1013.9,1252.6 1012.9,1252.0 1011.8,1251.6 1010.6,1251.5 1009.5,1251.8 1008.4,1252.3 1005.4,1254.3 1004.5,1255.1 1003.9,1256.1 1003.5,1257.2 1000.6,1273.4 1000.5,1273.6 998.9,1286.6 998.9,1286.7 998.8,1286.7 993.2,1288.3 993.1,1288.3 993.1,1288.2 991.7,1274.1 991.5,1273.1 991.0,1272.1 990.3,1271.3Z" fill="#4d4d4d" stroke="#4d4d4d" stroke-width="0.8" stroke-linejoin="round"/>
<path d="M197.5 389.6L236.0 389.6M305.2 389.6L336.5 389.6M411.2 389.6L464.2 389.6M529.5 389.6L578.4 389.6M657.7 389.6L697.2 389.6M770.0 389.6L813.3 389.6M869.7 389.6L915.8 389.6M985.8 389.6L1022.1 389.6M1085.5 389.6L1132.5 389.6M1187.5 389.6L1236.0 389.6M1308.5 389.6L1350.5 389.6M529.6 183.2L529.6 245.5M199.9 1251.8h0M228.7 1153.2h0M223.0 1203.9h0M232.0 1202.3h0M220.5 1223.7h0M220.5 1229.5h0M228.2 1203.9h0M223.0 1257.6h0M220.5 1267.5h0M310.5 1134.6h0M331.1 1168.4h0M305.5 1208.9h0M335.2 1220.4h0M335.2 1226.2h0M335.2 1236.9h0M305.5 1254.3h0M306.3 1262.5h0M458.3 1107.3h0M458.8 1134.6h0M456.3 1141.7h0M462.6 1155.2h0M532.2 1164.3h0M532.2 1173.4h0M532.7 1182.5h0M530.9 1198.1h0M545.5 1249.0h0M552.1 1250.6h0M557.0 1251.8h0M562.0 1252.6h0M545.5 1266.6h0M550.4 1266.6h0M554.5 1265.8h0M565.8 1179.1h0M566.6 1191.5h0M576.5 1192.7h0M571.9 1199.8h0M579.3 1206.7h0M571.5 1217.1h0M548.8 1206.7h0M550.9 1220.4h0M577.6 1227.8h0M657.7 1140.4h0M657.7 1232.5h0M657.9 1140.3h0M659.1 1232.2h0M659.9 1248.7h0M669.8 1269.4h0M680.5 1209.9h0M688.8 1209.9h0M694.6 1228.1h0M698.7 1247.1h0M698.7 1258.6h0M690.4 1207.5h0M771.7 1179.4h0M771.7 1181.9h0M771.3 1197.6h0M771.3 1209.1h0M791.6 1172.8h0M813.1 1177.8h0M813.1 1184.4h0M813.1 1192.6h0M813.1 1200.0h0M796.9 1231.4h0M796.6 1244.6h0M794.9 1254.5h0M782.1 1266.9h0M811.8 1223.1h0M789.5 1301.6h0M872.0 1213.2h0M872.0 1222.3h0M872.0 1228.9h0M872.0 1236.4h0M872.0 1257.8h0M883.6 1262.8h0M914.7 1108.4h0M899.9 1252.0h0M901.5 1205.8h0M906.5 1204.2h0M899.9 1213.2h0M897.4 1225.6h0M986.0 1196.7h0M1008.8 1188.5h0M1008.8 1197.6h0M1008.8 1205.8h0M1008.8 1217.4h0M1015.4 1217.4h0M1022.0 1215.7h0M1025.3 1218.2h0M1020.4 1195.1h0M1022.8 1200.0h0M1022.0 1205.8h0M1022.0 1224.0h0M1022.0 1228.9h0M1022.0 1240.5h0M1022.0 1246.3h0M1022.0 1253.7h0M990.6 1271.0h0M1099.6 1096.0h0M1099.6 1134.8h0M1088.9 1162.1h0M1090.5 1192.6h0M1093.8 1202.5h0M1102.1 1214.1h0M1099.6 1235.5h0M1102.9 1238.8h0M1117.8 1257.8h0M1117.8 1266.9h0M1117.8 1273.5h0M1122.7 1172.8h0M1121.1 1181.1h0M1122.7 1191.0h0M1122.7 1209.1h0M1119.4 1230.6h0M1097.9 1253.7h0M1088.9 1224.0h0M1126.6 1022.3h0M1125.0 1104.3h0M1127.4 1134.0h0M1125.8 1169.5h0M1129.9 1174.4h0M1123.3 1179.4h0M1133.2 1183.5h0M1127.4 1191.0h0M1126.6 1209.9h0M1121.7 1229.7h0M1133.2 1238.0h0M1121.7 1257.0h0M1186.9 1169.5h0M1200.9 1172.8h0M1233.1 1205.8h0M1235.5 1212.4h0M1186.9 1224.0h0M1186.9 1238.8h0M1193.8 1040.0h0M1201.2 1038.8h0M1188.8 1057.5h0M1198.8 1055.0h0M1199.4 1061.2h0M1197.5 1073.8h0M1201.9 1077.5h0M1188.1 1088.8h0M1204.4 1104.4h0M1194.4 1116.2h0M1200.0 1128.8h0M1193.1 1133.1h0M1233.0 1205.0h0M1239.0 1211.0h0M1222.5 1227.0h0M1186.3 1170.0h0M1311.2 1058.1h0M1351.1 1169.5h0M1349.4 1200.9h0M1311.2 1182.7h0M1338.7 1228.1h0M1314.0 1082.8h0M1323.0 1170.3h0M205.6 823.2h0M235.3 790.2h0M223.3 809.2h0M335.2 754.4h0M336.5 764.6h0M325.3 809.5h0M308.0 821.6h0M309.6 824.9h0M412.4 776.0h0M421.2 776.3h0M414.9 785.1h0M413.5 791.2h0M459.3 691.2h0M459.3 721.7h0M458.8 730.0h0M422.5 776.2h0M433.2 825.7h0M423.3 835.6h0M458.8 767.1h0M458.8 773.7h0M530.6 695.3h0M579.8 785.3h0M549.6 805.9h0M557.0 805.1h0M563.6 806.7h0M564.4 810.8h0M657.7 681.3h0M657.7 714.3h0M657.7 775.4h0M659.1 681.5h0M659.1 714.5h0M659.6 775.1h0M669.8 835.0h0M683.8 824.3h0M688.8 807.8h0M772.6 781.4h0M782.1 839.1h0M813.9 775.6h0M813.9 787.1h0M815.1 793.7h0M916.9 710.4h0M917.2 722.8h0M917.2 745.6h0M910.6 758.3h0M910.6 762.4h0M900.7 771.8h0M909.8 772.3h0M908.9 783.0h0M916.4 780.6h0M900.2 804.5h0M986.5 819.4h0M987.3 826.0h0M993.1 830.1h0M992.3 839.2h0M988.2 791.3h0M1017.1 779.7h0M1022.0 784.7h0M1024.5 803.7h0M1012.1 827.6h0M1011.3 839.2h0M1017.1 821.8h0M1089.7 772.3h0M1089.7 778.1h0M1089.7 789.6h0M1089.7 808.6h0M1134.5 821.8h0M1195.1 698.5h0M1196.1 709.5h0M1196.7 720.4h0M1197.3 729.8h0M1188.9 737.6h0M1199.8 740.7h0M1190.4 745.4h0M1199.8 751.6h0M1188.9 765.7h0M1195.1 764.1h0M1188.9 773.5h0M1201.4 770.4h0M1198.3 782.8h0M1192.0 787.5h0M1198.3 789.1h0M1190.4 810.9h0M1196.7 804.7h0M1204.5 810.9h0M1206.1 818.7h0M1196.0 715.0h0M1197.0 725.0h0M1188.5 529.1h0M1188.5 652.6h0M1189.0 669.9h0M1238.5 643.5h0M1201.7 770.6h0M1189.3 773.9h0M1192.6 787.1h0M1199.2 788.8h0M1237.2 775.6h0M1237.2 783.8h0M1237.2 792.1h0M1237.2 798.7h0M1224.8 792.1h0M1224.8 797.0h0M1195.1 803.6h0M1203.4 810.2h0M1207.5 818.5h0M1195.4 698.3h0M1311.5 513.6h0M1310.7 630.3h0M1312.3 633.6h0M1310.7 727.7h0M1310.7 745.9h0M1310.7 759.1h0M1310.7 773.9h0M1310.7 782.2h0M1310.7 787.1h0M1326.3 839.1h0M1353.6 821.8h0M1317.3 828.4h0M198.2 270.3h0M333.7 158.4h0M328.1 335.7h0M576.3 116.6h0M576.3 160.5h0M576.7 210.4h0M576.3 218.7h0M577.3 233.8h0M657.3 118.0h0M657.3 165.7h0M656.9 175.4h0M656.9 186.1h0M657.3 309.5h0M687.0 369.9h0M692.4 384.8h0M770.0 134.1h0M811.6 314.6h0M815.3 314.6h0M812.2 381.7h0M912.1 15.1h0M906.9 118.2h0M906.9 221.4h0M907.9 290.5h0M913.7 342.5h0M913.7 380.6h0M1021.0 351.8h0M1020.4 355.9h0M1021.6 379.2h0M1088.1 252.0h0M1088.1 334.1h0M1088.1 345.5h0M1186.9 231.1h0M1187.5 267.4h0M1188.2 298.9h0M1187.5 318.7h0M1192.0 365.3h0M1186.9 371.9h0M1186.9 380.0h0M1223.4 161.3h0M1223.4 298.9h0M1223.4 329.4h0M1223.4 359.8h0M1237.1 261.2h0M1233.1 310.3h0M1234.4 322.8h0M1233.1 340.5h0M1309.7 93.5h0M1309.7 124.3h0M1309.2 305.9h0M1308.6 321.3h0M1308.6 324.6h0M1308.6 365.3h0M1308.6 378.5h0M529.6 15.1h0M529.6 52.2h0M529.6 83.1h0M529.6 101.5h0M529.6 113.1h0M529.6 148.5h0M529.6 156.4h0M529.6 164.6h0M529.6 251.7h0M529.6 261.6h0M529.6 266.6h0M529.6 296.1h0M529.6 309.5h0M529.6 318.8h0M529.6 323.9h0M529.6 354.9h0M529.6 382.1h0M532.1 786.8h0M531.2 780.0h0M534.3 771.3h0M532.3 765.6h0M534.0 756.3h0M531.8 749.0h0M530.9 748.2h0M813.4 778.8h0M815.2 782.7h0M411.7 805.1h0M460.1 766.7h0M459.0 768.8h0M461.3 783.9h0M461.0 790.0h0M458.5 795.6h0M457.6 804.0h0M459.1 808.3h0M459.5 817.3h0M458.2 823.5h0M458.4 828.3h0M458.5 838.2h0M454.7 845.6h0M452.5 851.7h0M443.7 857.5h0M435.3 850.5h0M429.4 851.1h0M426.1 844.5h0M425.4 833.6h0M422.4 829.7h0M422.4 822.8h0M422.4 819.2h0M421.0 822.8h0M412.7 810.9h0M413.9 804.6h0M772.9 817.3h0M814.2 787.6h0M812.6 788.0h0M813.7 798.8h0M814.9 804.2h0M813.0 809.9h0M809.8 817.2h0M811.6 824.3h0M801.8 831.9h0M801.2 833.7h0M799.5 840.0h0M792.6 848.5h0M793.8 854.7h0M783.1 859.2h0M776.0 848.4h0M774.8 841.3h0M776.2 836.5h0M775.5 826.2h0M774.6 820.0h0M199.3 805.4h0M236.4 791.0h0M236.1 792.6h0M235.6 796.4h0M232.8 803.3h0M234.6 808.7h0M232.9 818.3h0M223.6 815.9h0M224.9 810.2h0M223.3 810.7h0M220.2 814.5h0M222.4 820.8h0M223.1 827.4h0M219.8 832.1h0M221.3 841.8h0M210.4 838.5h0M209.0 831.7h0M205.8 827.4h0M204.7 824.4h0M199.7 813.5h0M199.0 807.2h0M543.2 809.4h0M540.2 804.1h0M534.1 799.4h0M531.3 798.3h0M578.7 809.4h0M574.0 811.6h0M573.2 815.1h0M563.6 820.3h0M561.6 823.0h0M562.7 827.5h0M549.0 826.0h0M546.0 822.6h0M545.0 814.3h0M659.9 819.9h0M658.8 813.9h0M698.3 800.7h0M699.5 805.8h0M695.8 814.6h0M697.5 821.9h0M697.3 826.0h0M690.3 836.0h0M687.0 839.1h0M681.6 845.2h0M683.8 849.6h0M672.1 857.0h0M663.2 850.2h0M665.3 845.8h0M662.7 837.2h0M664.4 828.5h0M660.9 822.8h0M306.5 808.0h0M332.9 839.0h0M323.5 834.7h0M321.5 832.6h0M312.5 833.2h0M307.1 820.8h0M308.0 814.1h0M309.3 808.3h0M535.5 1155.6h0M534.9 1145.9h0M533.3 1141.3h0M534.1 1134.2h0M534.0 1127.6h0M535.9 1120.1h0M534.3 1109.9h0M535.8 1105.9h0M533.5 1098.5h0M533.6 1092.7h0M534.0 1083.6h0M534.0 1077.7h0M533.1 1071.4h0M533.5 1063.9h0M532.0 1061.9h0M689.4 1157.7h0M688.9 1167.8h0M688.5 1175.6h0M687.9 1182.5h0M690.0 1188.1h0M690.8 1197.7h0M691.6 1199.4h0M690.8 1188.8h0M691.4 1182.4h0M690.3 1177.9h0M691.4 1169.3h0M693.1 1094.6h0M690.4 1091.7h0M688.9 1092.6h0M691.3 1098.5h0M688.3 1106.8h0M689.0 1112.6h0M690.5 1120.3h0M688.2 1129.4h0M688.6 1130.0h0M689.1 1141.1h0M686.2 1148.2h0M687.4 1155.9h0M915.2 1110.5h0M911.3 1115.3h0M906.3 1116.6h0M907.5 1122.2h0M904.4 1128.9h0M904.1 1133.3h0M904.2 1142.8h0M906.1 1148.0h0M903.8 1155.5h0M906.2 1163.4h0M906.5 1169.7h0M907.1 1175.1h0M913.9 1182.5h0M916.4 1190.0h0M916.7 1198.2h0M909.6 1205.2h0M901.2 1206.9h0M899.4 1209.3h0M899.6 1216.9h0M901.3 1223.0h0M899.7 1230.0h0M898.8 1237.1h0M900.9 1242.2h0M900.4 1252.2h0M898.9 1257.6h0M896.3 1264.5h0M883.1 1267.6h0M881.5 1268.6h0M871.7 1268.8h0M412.4 1238.6h0M411.6 1236.4h0M460.1 1156.1h0M458.0 1154.6h0M454.0 1160.0h0M454.9 1166.5h0M455.5 1173.8h0M457.1 1179.9h0M456.3 1188.0h0M454.8 1195.6h0M456.7 1200.1h0M454.7 1206.9h0M456.6 1215.9h0M455.1 1220.3h0M454.9 1231.4h0M451.4 1235.8h0M452.4 1240.3h0M450.0 1249.1h0M453.2 1255.4h0M456.1 1262.7h0M452.1 1269.6h0M456.9 1281.9h0M453.3 1290.8h0M452.7 1297.0h0M443.2 1303.9h0M440.0 1303.1h0M434.5 1300.5h0M427.2 1290.0h0M428.5 1286.4h0M428.5 1288.1h0M415.6 1291.7h0M413.5 1281.7h0M415.5 1277.2h0M416.3 1269.8h0M413.5 1261.9h0M414.4 1256.0h0M416.5 1247.0h0M414.4 1242.2h0M305.7 1260.2h0M305.0 1256.6h0M304.7 1252.1h0M202.3 1290.4h0M231.0 1218.3h0M229.6 1217.5h0M232.0 1219.4h0M228.6 1226.5h0M229.1 1234.4h0M230.4 1244.2h0M228.0 1248.6h0M223.4 1257.6h0M223.4 1259.9h0M224.3 1265.2h0M218.3 1276.0h0M214.7 1278.2h0M217.0 1282.2h0M213.7 1291.0h0M203.0 1292.7h0M659.7 1250.7h0M690.4 1222.7h0M689.9 1218.9h0M686.9 1218.8h0M684.9 1220.3h0M685.9 1226.8h0M685.4 1234.0h0M682.7 1243.2h0M683.1 1247.9h0M682.2 1257.7h0M680.9 1261.4h0M679.8 1270.2h0M681.5 1275.3h0M671.4 1279.7h0M667.0 1273.0h0M667.2 1271.5h0M665.0 1269.2h0M662.0 1258.7h0M661.5 1252.6h0M532.2 1222.1h0M575.9 1232.4h0M571.8 1233.3h0M569.2 1234.4h0M568.9 1243.2h0M568.2 1250.1h0M569.2 1258.4h0M566.4 1263.0h0M562.5 1271.9h0M561.1 1278.5h0M550.9 1280.6h0M545.0 1282.1h0M539.0 1271.4h0M536.9 1266.3h0M537.7 1256.2h0M534.2 1252.1h0M536.4 1241.7h0M532.5 1236.9h0M532.9 1228.0h0M533.1 1221.5h0M812.1 1228.9h0M811.1 1230.8h0M811.2 1233.6h0M809.2 1239.0h0M808.1 1245.8h0M808.1 1254.7h0M806.1 1262.8h0M801.5 1269.2h0M799.3 1278.7h0M797.8 1280.0h0M798.0 1288.9h0M794.3 1295.3h0M794.4 1301.9h0M788.3 1304.8h0M783.9 1297.5h0M778.1 1288.4h0M780.7 1281.8h0M778.3 1277.9h0M777.1 1268.0h0M777.2 1260.5h0M774.7 1256.8h0M774.1 1250.2h0M771.0 1243.6h0M770.8 1235.3h0M770.0 1233.8h0M336.7 1243.4h0M335.2 1248.2h0M333.7 1254.3h0M331.9 1258.7h0M330.7 1265.1h0M330.2 1273.0h0M328.3 1283.3h0M328.1 1289.1h0M328.1 1293.4h0M318.3 1298.7h0M308.8 1301.7h0M307.2 1292.5h0M309.0 1288.3h0M306.4 1282.1h0M306.6 1273.7h0M306.7 1267.0h0M307.2 1264.7h0M1190.6 738.6h0M1201.4 754.2h0M1202.5 746.2h0M1199.3 742.0h0M1194.5 738.9h0M916.4 784.0h0M914.1 781.9h0M913.2 785.6h0M913.6 792.9h0M912.3 798.3h0M910.4 804.7h0M907.5 813.9h0M906.4 821.9h0M903.7 826.9h0M899.9 832.3h0M899.6 839.5h0M895.2 846.2h0M893.7 852.5h0M885.0 853.6h0M878.2 845.6h0M872.3 838.6h0M871.0 837.9h0M1201.5 809.1h0M1197.9 804.4h0M1193.1 805.0h0M1236.9 826.6h0M1232.3 828.5h0M1225.3 834.0h0M1222.4 836.6h0M1220.3 844.5h0M1222.9 848.3h0M1214.2 858.5h0M1206.9 847.0h0M1206.8 840.8h0M1204.6 833.8h0M1203.8 829.0h0M1203.9 819.1h0M1203.9 815.6h0M989.1 852.6h0M1024.5 834.3h0M1015.3 830.6h0M1015.1 831.6h0M1014.2 834.9h0M1013.2 838.4h0M1005.4 847.7h0M1004.8 851.9h0M992.5 851.4h0M1091.0 830.6h0M1134.2 839.7h0M1134.0 841.2h0M1121.9 846.8h0M1119.0 846.3h0M1108.6 848.0h0M1108.1 842.9h0M1103.9 838.6h0M1100.8 832.2h0M1093.9 830.7h0M1353.5 835.8h0M1346.2 838.0h0M1344.7 837.9h0M1341.7 842.6h0M1339.6 848.9h0M1331.5 854.2h0M1318.7 851.0h0M1317.7 842.9h0M1320.4 837.9h0M1317.5 832.2h0M1317.4 833.8h0M1311.3 840.4h0M1125.0 1024.5h0M1122.1 1026.5h0M1121.0 1035.6h0M1121.2 1041.5h0M1123.0 1048.5h0M1122.0 1056.3h0M1120.2 1064.1h0M1121.4 1069.9h0M1122.0 1078.5h0M1120.9 1083.4h0M1120.7 1093.4h0M1120.4 1099.8h0M1124.5 1103.8h0M1124.1 1096.2h0M1128.1 1089.4h0M1126.3 1026.1h0M1126.1 1022.6h0M1234.3 1079.6h0M1233.2 1080.7h0M1232.3 1087.5h0M1232.6 1094.5h0M1233.1 1103.0h0M1231.5 1108.3h0M1232.5 1114.5h0M1315.5 1084.3h0M1313.3 1084.4h0M1315.4 1175.0h0M1316.4 1179.1h0M1324.8 1184.9h0M1324.3 1175.3h0M1324.1 1169.6h0M1324.1 1166.2h0M1316.3 1160.5h0M1316.8 1150.2h0M1314.8 1144.5h0M1314.2 1137.0h0M1315.0 1128.6h0M1314.7 1121.3h0M1314.7 1116.2h0M1314.4 1108.8h0M1316.4 1103.4h0M1314.6 1095.0h0M1315.5 1087.7h0M1234.3 1136.5h0M1235.8 1137.9h0M1226.0 1131.7h0M1223.8 1127.6h0M1224.1 1121.0h0M1223.1 1116.3h0M1222.5 1114.3h0M1222.8 1119.9h0M1221.0 1127.4h0M1220.6 1134.0h0M1220.1 1141.6h0M1222.3 1148.4h0M1221.0 1154.9h0M1221.4 1162.2h0M1220.9 1169.9h0M1222.1 1171.8h0M1222.5 1170.9h0M1223.3 1163.9h0M1233.0 1165.3h0M1231.4 1172.6h0M1231.3 1177.4h0M1232.0 1186.5h0M1020.1 1128.4h0M1021.5 1133.4h0M1022.8 1143.4h0M1020.7 1149.3h0M1020.8 1154.0h0M1019.6 1164.2h0M1019.4 1170.0h0M1021.3 1178.2h0M1021.3 1129.7h0M1090.4 1218.3h0M1088.7 1209.3h0M1088.7 1202.2h0M1092.6 1205.0h0M1088.6 1205.4h0M1193.0 1151.8h0M1193.3 1152.0h0M1232.8 1225.8h0M1227.8 1229.7h0M1224.2 1228.8h0M1223.1 1236.1h0M1225.5 1241.0h0M1225.0 1246.5h0M1227.4 1254.4h0M1217.1 1261.6h0M1206.5 1250.6h0M1205.0 1242.5h0M1204.0 1235.9h0M1205.5 1232.1h0M1204.2 1224.2h0M1200.6 1217.9h0M1202.1 1207.6h0M1201.7 1200.2h0M1201.2 1196.3h0M1200.2 1186.6h0M1199.1 1178.6h0M1200.2 1173.2h0M1196.4 1172.1h0M1195.7 1160.0h0M1193.5 1155.5h0M1323.4 1196.8h0M1318.2 1193.8h0M1316.5 1194.7h0M1348.3 1237.1h0M1340.1 1238.6h0M1336.2 1235.9h0M1329.8 1226.6h0M1326.9 1219.5h0M1327.1 1215.5h0M1324.4 1205.6h0M1326.2 1198.4h0M1123.6 1277.8h0M1122.7 1272.6h0M1121.2 1267.5h0M1122.0 1260.4h0M1125.7 1256.9h0M1123.1 1265.7h0M1123.9 1270.5h0M1088.3 1218.0h0M1131.4 1266.1h0M1133.8 1268.7h0M1131.6 1278.2h0M1125.4 1279.6h0M1122.8 1283.7h0M1114.7 1287.5h0M1104.1 1287.8h0M1099.2 1279.0h0M1100.0 1273.7h0M1096.3 1268.2h0M1095.0 1258.1h0M1092.3 1251.1h0M1090.9 1245.1h0M1093.2 1235.7h0M1089.3 1232.1h0M1089.9 1224.7h0M1090.7 1217.5h0M987.3 1275.8h0M1022.1 1244.9h0M1023.1 1247.2h0M1022.9 1252.1h0M1011.6 1254.5h0M1009.9 1256.5h0M1006.4 1257.8h0M1005.8 1265.1h0M1006.3 1270.9h0M1003.5 1276.9h0M1004.5 1286.2h0M988.0 1287.7h0M987.1 1282.7h0M989.0 1276.0h0" stroke="#4d4d4d" stroke-width="11.0" stroke-linecap="round" fill="none"/>
<path d="M717.0,833.5 716.2,832.5 715.2,831.7 714.0,831.2 712.1,830.7 710.8,830.6 709.6,830.8 708.5,831.3 707.6,832.1 707.6,832.1 707.0,833.0 706.6,834.0 706.5,835.1 706.5,858.9 706.6,860.1 707.1,861.1 707.8,862.1 708.7,862.8 709.8,863.2 711.0,863.4 761.0,863.4 762.2,863.2 763.3,862.8 764.2,862.1 764.9,861.1 765.4,860.1 765.5,858.9 765.5,820.1 765.5,820.1 765.2,729.6 765.1,728.4 764.6,727.3 763.9,726.4 763.6,726.0 762.6,725.3 761.5,724.9 760.3,724.7 759.1,724.9 758.0,725.4 757.1,726.2 756.2,727.1 755.3,728.5 749.2,743.7 749.0,744.8 746.6,761.9 746.6,762.8 748.2,787.0 748.2,787.3 744.9,828.3 744.9,828.5 741.6,849.8 741.6,849.9 741.5,849.9 737.6,853.1 737.5,853.2 737.4,853.2 729.3,853.2 729.2,853.2 729.1,853.1 721.1,851.5 721.0,851.5 721.0,851.4 719.4,839.1 719.0,837.6ZM479.6,786.4 478.5,786.2 477.4,786.3 476.3,786.7 475.4,787.4 474.6,788.2 474.1,789.2 473.9,790.3 472.5,804.9 472.5,805.3 472.5,858.9 472.6,860.1 473.1,861.1 473.8,862.1 474.7,862.8 475.8,863.2 477.0,863.4 520.7,863.4 521.8,863.2 522.9,862.8 523.8,862.1 524.5,861.1 525.0,860.1 525.2,858.9 525.2,846.4 525.1,846.2 524.9,839.7 524.7,838.7 524.4,837.7 523.8,836.9 520.8,833.4 519.9,832.7 518.8,832.1 517.7,831.9 516.5,832.0 514.1,832.5 513.0,832.8 512.0,833.5 511.3,834.3 510.8,835.4 510.5,836.5 509.1,852.8 509.1,852.9 509.0,852.9 491.1,852.9 491.0,852.9 490.9,852.9 487.7,849.7 487.7,849.6 487.6,849.5 483.6,838.2 483.6,838.1 483.6,838.0 482.8,790.7 482.7,789.5 482.2,788.5 481.6,787.6 480.7,786.9ZM355.7,797.5 355.2,796.5 354.4,795.6 352.9,794.3 351.8,793.6 350.7,793.2 349.4,793.2 348.2,793.5 347.2,794.1 346.5,794.6 345.6,795.6 345.0,796.8 344.8,798.2 344.8,858.9 344.9,860.1 345.4,861.1 346.1,862.1 347.0,862.8 348.1,863.2 349.3,863.4 401.7,863.4 402.9,863.2 403.9,862.8 404.9,862.1 405.6,861.1 406.0,860.1 406.2,858.9 406.2,821.9 406.2,821.3 405.6,816.7 405.3,815.6 404.8,814.7 404.0,813.8 402.3,812.4 401.3,811.7 400.2,811.4 398.9,811.3 397.8,811.6 396.7,812.2 394.5,813.8 393.7,814.7 393.1,815.7 392.8,816.9 389.7,844.6 389.7,844.7 389.6,844.7 385.1,845.8 383.9,846.3 382.9,847.1 382.2,848.2 379.8,852.8 379.8,852.9 379.7,852.9 363.4,852.9 363.3,852.9 363.2,852.8 360.0,848.1 360.0,848.0 360.0,847.9 357.5,821.6 357.5,821.5 356.0,798.7ZM601.3,816.3 600.3,815.6 599.2,815.1 598.1,815.0 594.9,815.0 593.9,815.1 592.9,815.4 592.1,815.9 588.8,818.6 587.8,819.6 587.3,820.8 587.1,822.1 587.1,858.9 587.2,860.1 587.7,861.1 588.4,862.1 589.3,862.8 590.4,863.2 591.6,863.4 648.3,863.4 649.4,863.2 650.5,862.8 651.4,862.1 652.1,861.1 652.6,860.1 652.8,858.9 652.8,821.7 652.7,821.5 651.9,805.3 651.9,804.9 650.8,797.5 650.5,796.4 650.0,795.4 649.2,794.6 648.2,794.0 647.1,793.7 646.0,793.7 644.9,793.9 643.8,794.4 643.0,795.2 642.4,796.1 641.2,798.5 635.8,809.2 635.5,810.0 635.4,810.9 634.6,823.1 634.6,823.2 634.5,823.3 628.9,826.5 628.8,826.5 628.8,826.4 627.3,812.4 627.0,811.2 626.4,810.2 625.6,809.3 624.5,808.7 623.4,808.4 622.2,808.4 621.0,808.7 620.0,809.4 619.1,810.3 618.6,811.3 618.3,812.5 617.3,826.4 617.3,826.5 617.2,826.6 613.2,842.9 613.1,843.0 613.1,843.0 606.6,834.9 606.5,834.8 606.5,834.7 602.4,818.4 602.0,817.3ZM265.6,818.0 264.4,818.2 258.0,820.0 258.0,820.0 251.0,821.8 250.0,822.1 249.2,822.6 246.7,824.6 245.8,825.6 245.2,826.8 245.0,828.2 245.0,858.9 245.2,860.1 245.6,861.1 246.3,862.1 247.2,862.8 248.3,863.2 249.5,863.4 293.5,863.4 294.7,863.2 295.8,862.8 296.7,862.1 297.4,861.1 297.8,860.1 298.0,858.9 298.0,826.7 297.8,825.3 296.7,822.1 296.3,821.2 295.6,820.4 294.8,819.7 293.9,819.3 291.3,818.4 290.0,818.2 288.7,818.4 283.2,819.9 282.8,820.1 278.1,822.0 278.0,822.0 277.9,821.9 273.1,818.8 271.9,818.2 270.6,818.0ZM277.8,1167.1 278.3,1168.2 279.0,1169.1 279.9,1169.9 283.1,1171.7 283.2,1171.7 283.2,1171.8 283.8,1184.0 284.0,1185.1 284.5,1186.1 285.2,1187.0 286.1,1187.7 287.2,1188.1 288.3,1188.2 290.4,1188.2 291.6,1188.1 292.7,1187.6 293.7,1186.8 294.4,1185.9 298.1,1179.0 298.5,1178.0 298.6,1176.9 298.5,1175.9 297.3,1170.2 297.3,1170.1 297.3,1170.0 298.0,1158.7 298.0,1157.7 297.7,1156.7 295.2,1150.8 294.6,1149.8 293.9,1149.0 292.9,1148.4 291.8,1148.1 290.7,1148.0 286.9,1148.3 285.7,1148.5 284.7,1149.1 283.8,1149.8 283.2,1150.8 282.8,1151.9 282.7,1153.1 283.2,1160.1 283.2,1160.2 283.1,1160.2 279.9,1162.0 279.0,1162.8 278.3,1163.7 277.8,1164.8 277.7,1165.9ZM715.6,1259.0 714.9,1258.2 714.0,1257.5 713.0,1257.1 711.9,1257.0 710.9,1257.0 709.8,1257.1 708.8,1257.5 707.9,1258.1 707.2,1258.9 706.7,1259.9 705.6,1262.8 705.3,1264.4 705.3,1325.8 705.5,1327.0 705.9,1328.0 706.6,1329.0 707.5,1329.7 708.6,1330.1 709.8,1330.3 760.7,1330.3 761.9,1330.1 763.0,1329.7 763.9,1329.0 764.6,1328.0 765.1,1327.0 765.2,1325.8 765.2,1275.1 765.5,1110.1 765.5,1110.0 764.8,1041.7 764.6,1040.6 764.2,1039.5 763.5,1038.6 762.6,1037.9 761.6,1037.5 760.5,1037.3 759.4,1037.3 758.3,1037.7 757.4,1038.3 756.6,1039.1 756.1,1040.1 753.5,1046.6 753.1,1048.1 751.5,1088.6 751.5,1088.7 749.0,1118.3 749.0,1118.4 745.4,1151.1 745.4,1151.6 744.1,1275.0 744.1,1275.1 744.1,1275.2 742.5,1283.3 742.4,1283.4 742.3,1283.4 732.5,1281.7 722.7,1280.1 722.6,1280.1 722.5,1280.1 717.8,1278.5 717.7,1278.4 717.7,1278.3 716.3,1261.1 716.1,1260.0ZM344.8,1276.7 344.4,1277.7 344.3,1278.8 344.3,1325.8 344.4,1327.0 344.9,1328.0 345.6,1329.0 346.5,1329.7 347.6,1330.1 348.8,1330.3 400.9,1330.3 402.0,1330.1 403.1,1329.7 404.1,1329.0 404.8,1328.0 405.2,1327.0 405.4,1325.8 405.4,1269.4 405.3,1268.8 404.6,1262.8 404.5,1262.2 402.1,1252.7 401.7,1251.6 400.9,1250.7 400.0,1249.9 398.9,1249.5 397.7,1249.3 397.6,1249.3 396.3,1249.5 395.1,1250.0 394.2,1250.9 393.5,1252.0 389.9,1260.4 389.6,1261.3 386.4,1277.3 386.4,1277.4 386.3,1277.4 366.7,1279.0 366.6,1279.0 366.5,1278.9 361.4,1274.1 361.3,1274.1 361.3,1274.0 360.8,1170.4 360.8,1169.7 358.9,1157.4 358.5,1156.2 357.8,1155.1 356.9,1154.3 355.7,1153.7 354.4,1153.6 353.2,1153.6 352.1,1153.7 351.0,1154.2 350.1,1154.9 349.3,1155.8 348.9,1156.9 348.7,1158.1 348.4,1274.0 348.4,1274.1 348.3,1274.1 347.1,1274.6 346.2,1275.1 345.4,1275.8ZM244.3,1287.3 244.1,1288.6 244.1,1325.8 244.2,1327.0 244.7,1328.0 245.4,1329.0 246.3,1329.7 247.4,1330.1 248.6,1330.3 294.7,1330.3 295.9,1330.1 297.0,1329.7 297.9,1329.0 298.6,1328.0 299.1,1327.0 299.2,1325.8 299.2,1269.3 299.2,1269.0 298.1,1252.6 298.1,1252.6 296.5,1220.4 296.3,1219.3 295.9,1218.3 295.2,1217.4 294.3,1216.7 292.9,1215.9 291.8,1215.5 290.6,1215.3 289.5,1215.5 288.4,1215.9 287.1,1216.7 286.1,1217.4 285.4,1218.3 285.0,1219.3 284.8,1220.5 284.0,1244.2 284.0,1244.3 283.9,1244.4 274.2,1249.3 274.1,1249.3 274.0,1249.3 266.3,1249.3 266.2,1249.3 266.2,1249.2 266.0,1231.5 265.8,1230.3 265.3,1229.2 264.6,1228.3 263.7,1227.6 262.6,1227.2 261.5,1227.0 260.3,1227.0 259.2,1227.2 258.1,1227.6 257.1,1228.3 254.0,1231.5 253.3,1232.4 252.8,1233.5 252.6,1234.6 251.9,1282.2 251.8,1282.3 251.8,1282.4 246.8,1284.5 245.7,1285.1 244.8,1286.1ZM598.3,1252.5 596.8,1228.4 596.6,1227.4 596.2,1226.5 595.6,1225.6 594.8,1225.0 594.6,1224.9 593.6,1224.3 592.4,1224.1 591.2,1224.2 590.0,1224.6 589.1,1225.3 587.8,1226.5 587.0,1227.5 586.6,1228.6 586.4,1229.8 586.4,1325.8 586.5,1327.0 587.0,1328.0 587.7,1329.0 588.6,1329.7 589.7,1330.1 590.9,1330.3 647.9,1330.3 649.1,1330.1 650.2,1329.7 651.1,1329.0 651.8,1328.0 652.3,1327.0 652.4,1325.8 652.4,1285.8 652.4,1285.5 651.4,1271.6 651.2,1270.5 650.7,1269.5 650.0,1268.7 649.1,1268.0 648.0,1267.6 646.9,1267.5 634.7,1267.5 634.6,1267.5 634.5,1267.4 626.4,1262.6 626.3,1262.5 626.3,1262.4 624.3,1251.3 623.9,1250.2 623.3,1249.2 622.4,1248.4 621.3,1247.8 620.1,1247.6 618.9,1247.7 617.8,1248.1 616.8,1248.8 616.1,1249.7 615.6,1250.8 615.4,1252.0 614.8,1275.6 614.8,1275.7 614.7,1275.7 603.3,1275.7 603.2,1275.7 603.2,1275.6 598.3,1252.7 598.3,1252.6ZM824.4,1266.9 823.4,1267.4 822.5,1268.1 821.9,1269.0 821.5,1270.0 821.3,1271.1 821.3,1325.8 821.5,1327.0 821.9,1328.0 822.7,1329.0 823.6,1329.7 824.7,1330.1 825.8,1330.3 860.1,1330.3 861.3,1330.1 862.3,1329.7 863.3,1329.0 864.0,1328.0 864.4,1327.0 864.6,1325.8 864.6,1275.3 864.6,1275.0 863.9,1261.9 863.7,1260.8 863.3,1259.7 862.6,1258.9 861.7,1258.2 860.7,1257.7 858.1,1257.0 858.0,1257.0 858.0,1256.9 857.4,1255.1 856.9,1254.0 856.1,1253.0 855.1,1252.3 854.0,1252.0 852.7,1251.9 851.5,1252.2 850.5,1252.7 849.6,1253.6 849.0,1254.6 848.6,1255.8 848.1,1260.2 848.1,1260.3 848.0,1260.3 845.3,1261.1 844.3,1261.5 843.4,1262.2 842.7,1263.0 842.3,1264.0 842.0,1265.0 841.5,1271.7 841.5,1271.8 841.4,1271.8 830.9,1270.2 830.8,1270.2 830.7,1270.1 829.4,1268.4 828.7,1267.6 827.7,1267.0 826.6,1266.7 825.5,1266.7ZM471.7,1287.1 471.5,1288.3 471.5,1325.8 471.7,1327.0 472.1,1328.0 472.8,1329.0 473.8,1329.7 474.8,1330.1 476.0,1330.3 519.5,1330.3 520.7,1330.1 521.7,1329.7 522.7,1329.0 523.4,1328.0 523.8,1327.0 524.0,1325.8 524.0,1285.8 524.0,1285.4 523.3,1277.6 523.1,1276.5 522.5,1275.4 521.7,1274.5 519.1,1272.5 519.0,1272.3 514.5,1267.9 513.5,1267.1 512.3,1266.7 511.0,1266.6 509.7,1266.9 506.4,1268.2 505.4,1268.8 504.6,1269.5 504.0,1270.4 503.7,1271.4 500.9,1283.9 500.9,1284.0 500.8,1284.1 496.0,1295.4 495.9,1295.7 491.0,1303.7 491.0,1303.8 491.0,1303.7 489.4,1286.8 489.2,1285.7 488.7,1284.7 484.4,1278.2 483.7,1277.4 482.9,1276.8 481.9,1276.4 480.8,1276.2 479.8,1276.3 478.1,1276.6 476.9,1277.0 475.9,1277.8 475.1,1278.7 474.6,1279.8 474.5,1281.1 474.5,1283.9 474.5,1284.0 474.4,1284.0 473.8,1284.3 472.9,1285.0 472.1,1286.0ZM937.4,840.6 936.5,839.8 935.3,839.3 934.1,839.2 932.0,839.2 930.9,839.3 929.9,839.7 929.0,840.4 928.2,841.2 925.0,846.3 924.5,847.5 924.3,848.7 924.3,858.9 924.4,860.1 924.9,861.1 925.6,862.1 926.5,862.8 927.6,863.2 928.8,863.4 977.1,863.4 978.2,863.2 979.3,862.8 980.2,862.1 981.0,861.1 981.4,860.1 981.6,858.9 981.6,852.6 981.5,852.1 980.7,844.1 980.7,844.1 978.5,823.6 978.3,822.4 977.7,821.4 976.9,820.6 975.9,820.0 972.4,818.4 971.4,818.1 970.3,818.0 969.2,818.3 966.9,819.0 965.9,819.5 965.1,820.1 962.7,822.6 962.6,822.6 962.6,822.5 961.7,818.0 961.3,816.9 960.5,815.8 959.6,815.1 958.5,814.6 957.2,814.4 956.5,814.4 955.2,814.6 954.1,815.1 953.1,815.9 952.4,817.0 952.1,818.2 951.0,824.2 951.0,824.3 951.0,824.4 945.7,835.0 945.3,835.9 945.2,836.8 944.4,850.6 944.4,850.7 944.3,850.8 940.4,852.3 940.3,852.4 940.3,852.3 938.5,842.8 938.1,841.7ZM1037.7,826.2 1036.7,825.6 1035.7,825.3 1034.6,825.3 1033.6,825.5 1032.6,825.9 1032.0,826.3 1031.2,827.0 1030.5,827.9 1030.1,829.0 1029.9,830.1 1029.9,858.9 1030.1,860.1 1030.5,861.1 1031.3,862.1 1032.2,862.8 1033.3,863.2 1034.4,863.4 1076.9,863.4 1078.1,863.2 1079.2,862.8 1080.1,862.1 1080.8,861.1 1081.3,860.1 1081.4,858.9 1081.4,836.0 1081.4,835.7 1080.7,826.2 1080.5,825.0 1080.0,824.0 1079.2,823.1 1078.4,822.4 1077.4,821.7 1076.2,821.4 1075.0,821.3 1073.8,821.6 1072.8,822.2 1071.9,823.0 1068.8,826.9 1068.3,827.6 1068.0,828.5 1063.3,845.7 1063.3,845.8 1063.2,845.7 1055.1,844.1 1055.0,844.1 1055.0,844.0 1053.0,840.0 1052.3,839.0 1051.3,838.2 1050.2,837.7 1048.9,837.5 1045.2,837.5 1045.1,837.5 1045.1,837.4 1042.3,830.4 1041.7,829.4 1040.8,828.5ZM1253.7,826.2 1252.7,825.6 1251.6,825.2 1250.5,825.1 1249.4,825.3 1248.3,825.8 1247.5,826.5 1245.4,828.7 1244.7,829.7 1244.3,830.7 1244.1,831.8 1244.1,858.9 1244.3,860.1 1244.7,861.1 1245.5,862.1 1246.4,862.8 1247.5,863.2 1248.6,863.4 1299.6,863.4 1300.7,863.2 1301.8,862.8 1302.7,862.1 1303.5,861.1 1303.9,860.1 1304.1,858.9 1304.1,836.9 1304.0,836.4 1303.5,830.9 1303.2,829.8 1302.7,828.8 1301.9,827.9 1301.0,827.3 1298.6,826.1 1297.7,825.7 1296.6,825.6 1295.6,825.7 1294.6,826.1 1290.7,828.1 1289.5,828.9 1285.1,833.3 1285.1,833.3 1285.0,833.3 1280.8,831.2 1279.7,830.8 1278.5,830.7 1277.4,831.0 1276.3,831.5 1274.7,832.6 1273.7,833.5 1273.0,834.6 1270.3,841.5 1270.2,841.6 1270.1,841.5 1266.8,838.2 1265.9,837.5 1264.8,837.0 1263.6,836.9 1262.4,837.0 1261.4,837.5 1260.4,838.2 1258.7,839.9 1258.7,839.9 1258.6,839.8 1256.5,829.9 1256.0,828.5 1255.0,827.4ZM1144.5,840.4 1143.4,840.8 1142.4,841.5 1141.7,842.5 1141.3,843.5 1141.1,844.7 1141.1,858.9 1141.3,860.1 1141.7,861.1 1142.4,862.1 1143.4,862.8 1144.5,863.2 1145.6,863.4 1178.6,863.4 1179.7,863.2 1180.8,862.8 1181.7,862.1 1182.5,861.1 1182.9,860.1 1183.1,858.9 1183.1,836.7 1183.1,836.6 1182.9,832.7 1182.7,831.6 1182.2,830.5 1181.5,829.7 1180.6,829.0 1179.5,828.5 1178.4,828.4 1177.3,828.4 1176.0,828.6 1174.9,829.1 1173.9,829.9 1173.2,830.9 1172.8,831.7 1169.6,838.2 1169.5,838.3 1169.4,838.4 1165.5,840.6 1164.5,841.4 1163.8,842.4 1163.3,843.6 1161.3,853.0 1161.3,853.2 1161.2,853.2 1153.1,853.2 1153.0,853.2 1153.0,853.1 1150.8,844.5 1150.4,843.3 1149.7,842.4 1148.8,841.5 1147.9,840.8 1146.8,840.4 1145.6,840.2ZM825.4,832.4 824.3,832.8 823.3,833.5 822.6,834.5 822.2,835.6 822.0,836.7 822.0,858.9 822.2,860.1 822.6,861.1 823.3,862.1 824.3,862.8 825.3,863.2 826.5,863.4 840.3,863.4 841.5,863.2 842.6,862.8 842.7,862.7 842.8,862.8 843.9,863.3 845.0,863.4 860.4,863.4 861.6,863.2 862.7,862.8 863.6,862.1 864.3,861.1 864.8,860.1 864.9,858.9 864.9,853.2 864.9,853.1 864.7,844.7 864.5,843.7 864.1,842.7 863.4,841.8 862.6,841.1 861.6,840.6 859.9,840.0 859.4,839.9 851.8,838.4 850.9,838.3 848.2,838.3 847.1,838.4 846.1,838.9 845.1,839.5 844.4,840.4 843.9,841.5 843.7,842.6 843.1,854.7 843.1,854.8 842.9,854.9 842.9,854.9 842.7,855.1 842.2,854.8 841.1,854.5 833.3,853.2 833.2,853.2 833.2,853.0 831.7,837.6 831.5,836.7 831.1,835.8 830.5,834.6 829.8,833.6 828.8,832.9 827.7,832.4 826.6,832.2ZM1303.8,1098.6 1303.2,1097.3 1302.8,1096.9 1302.0,1096.0 1300.9,1095.4 1299.8,1095.1 1298.5,1095.1 1297.4,1095.5 1296.4,1096.1 1295.5,1097.0 1294.1,1099.1 1293.5,1100.2 1293.3,1101.5 1291.7,1134.7 1291.7,1135.0 1293.3,1187.5 1293.4,1188.6 1293.9,1189.7 1294.6,1190.6 1295.4,1191.4 1296.3,1192.1 1297.3,1192.5 1298.4,1192.7 1299.5,1192.7 1300.5,1192.3 1301.4,1191.8 1302.8,1190.7 1303.8,1189.7 1304.3,1188.5 1304.5,1187.1 1304.1,1100.0ZM1033.8,1136.2 1032.6,1136.5 1031.6,1137.1 1030.8,1138.0 1030.3,1138.6 1029.7,1139.9 1029.4,1141.3 1029.4,1200.6 1029.6,1201.8 1030.0,1202.9 1030.8,1203.8 1031.4,1204.5 1032.3,1205.2 1033.3,1205.6 1034.5,1205.8 1035.6,1205.7 1036.6,1205.4 1037.6,1204.8 1038.6,1203.9 1039.4,1202.9 1040.0,1201.7 1040.1,1200.4 1039.4,1141.3 1039.1,1139.9 1038.5,1138.6 1038.0,1138.0 1037.2,1137.1 1036.1,1136.5 1035.0,1136.2ZM932.6,1287.8 931.7,1287.2 930.4,1286.5 929.2,1286.0 928.0,1285.9 926.7,1286.1 925.6,1286.7 925.2,1287.0 924.4,1287.7 923.8,1288.6 923.4,1289.6 923.3,1290.7 923.3,1325.8 923.4,1327.0 923.9,1328.0 924.6,1329.0 925.5,1329.7 926.6,1330.1 927.8,1330.3 975.4,1330.3 976.6,1330.1 977.7,1329.7 978.6,1329.0 979.3,1328.0 979.8,1327.0 979.9,1325.8 979.9,1275.2 979.9,1275.1 979.1,1192.9 979.1,1192.3 975.9,1168.8 975.7,1167.9 975.3,1167.0 970.9,1159.7 970.8,1159.6 970.8,1159.5 970.5,1075.7 970.3,1074.5 969.8,1073.4 969.0,1072.4 967.7,1071.2 966.7,1070.5 965.6,1070.1 964.4,1070.0 963.2,1070.2 962.1,1070.8 962.1,1070.8 961.3,1071.5 960.6,1072.4 960.2,1073.4 960.1,1074.5 959.3,1151.3 957.6,1248.7 957.6,1248.8 956.0,1271.7 956.0,1271.8 955.9,1271.9 947.7,1274.6 946.7,1275.1 945.9,1275.7 945.2,1276.6 940.8,1284.1 940.4,1285.1 940.2,1286.1 939.5,1299.8 939.5,1299.9 939.4,1300.0 935.4,1303.1 935.4,1303.2 935.3,1303.1 933.9,1290.6 933.7,1289.6 933.2,1288.6ZM1173.0,1254.0 1173.0,1253.9 1173.8,1253.1 1173.8,1253.1 1173.8,1253.0 1173.9,1253.0 1174.8,1252.4 1174.8,1252.4 1174.9,1252.4 1174.9,1252.3 1176.0,1252.0 1176.0,1252.0 1176.1,1252.0 1176.1,1252.0 1177.2,1251.9 1177.3,1251.9 1177.3,1251.9 1177.3,1251.9 1178.5,1252.1 1178.5,1252.1 1178.5,1252.1 1178.6,1252.1 1179.6,1252.6 1179.6,1252.6 1179.7,1252.6 1179.7,1252.6 1180.6,1253.3 1180.6,1253.4 1180.6,1253.4 1180.7,1253.4 1181.4,1254.3 1181.4,1254.4 1181.4,1254.4 1181.4,1254.4 1181.5,1254.7 1181.1,1232.2 1173.6,1233.0 1172.9,1254.2 1172.9,1254.0 1173.0,1254.0ZM1254.5,1229.6 1254.0,1228.5 1253.2,1227.6 1252.2,1227.0 1251.1,1226.6 1250.4,1226.4 1249.2,1226.4 1248.1,1226.5 1247.1,1227.0 1246.3,1227.7 1245.6,1228.6 1245.1,1229.6 1243.6,1234.9 1243.5,1236.2 1243.5,1325.8 1243.6,1327.0 1244.1,1328.0 1244.8,1329.0 1245.7,1329.7 1246.8,1330.1 1248.0,1330.3 1299.6,1330.3 1300.7,1330.1 1301.8,1329.7 1302.7,1329.0 1303.5,1328.0 1303.9,1327.0 1304.1,1325.8 1304.1,1275.2 1304.1,1275.1 1303.6,1211.8 1303.4,1210.6 1302.9,1209.5 1302.2,1208.5 1301.2,1207.8 1300.1,1207.4 1298.9,1207.3 1297.7,1207.5 1296.6,1208.0 1295.7,1208.8 1293.5,1211.3 1293.0,1212.1 1292.6,1213.0 1292.4,1214.0 1290.0,1250.3 1290.0,1250.4 1290.0,1250.5 1283.6,1263.3 1283.3,1263.9 1275.2,1288.2 1275.2,1288.3 1275.1,1288.3 1273.6,1287.1 1272.5,1286.6 1271.3,1286.3 1270.1,1286.3 1269.0,1286.7 1267.9,1287.3 1267.1,1288.2 1266.6,1289.3 1265.3,1293.2 1265.3,1293.3 1265.2,1293.2 1257.9,1286.8 1257.8,1286.7 1257.8,1286.6 1256.2,1258.6 1254.7,1230.8ZM1154.4,1242.6 1153.5,1241.7 1152.4,1241.2 1151.2,1240.9 1150.0,1241.0 1148.8,1241.4 1147.8,1242.1 1143.4,1246.1 1142.5,1247.2 1142.0,1248.6 1139.6,1261.5 1139.5,1262.4 1139.5,1325.8 1139.6,1327.0 1140.1,1328.0 1140.8,1329.0 1141.7,1329.7 1142.8,1330.1 1144.0,1330.3 1177.4,1330.3 1178.6,1330.1 1179.7,1329.7 1180.6,1329.0 1181.3,1328.0 1181.7,1327.0 1181.9,1325.8 1181.9,1275.2 1181.9,1275.1 1181.5,1256.8 1181.4,1255.7 1181.0,1254.6 1180.3,1253.7 1179.4,1253.0 1178.4,1252.6 1177.3,1252.4 1176.1,1252.5 1175.1,1252.8 1174.1,1253.4 1173.4,1254.3 1172.8,1255.3 1172.8,1255.3 1172.7,1255.4 1168.8,1259.4 1168.0,1260.4 1167.6,1261.6 1163.8,1278.1 1163.7,1278.8 1162.1,1298.1 1162.1,1298.2 1162.1,1298.1 1159.7,1291.8 1159.6,1291.6 1159.6,1291.5 1158.0,1248.6 1157.7,1247.2 1157.0,1245.9ZM1039.7,1278.0 1038.8,1277.3 1036.6,1276.3 1035.5,1275.9 1034.4,1275.8 1033.3,1276.0 1032.3,1276.4 1031.1,1277.1 1030.2,1277.8 1029.5,1278.8 1029.1,1279.8 1028.9,1281.0 1028.9,1325.8 1029.1,1327.0 1029.5,1328.0 1030.3,1329.0 1031.2,1329.7 1032.3,1330.1 1033.4,1330.3 1076.1,1330.3 1077.3,1330.1 1078.4,1329.7 1079.3,1329.0 1080.0,1328.0 1080.5,1327.0 1080.6,1325.8 1080.6,1291.8 1080.6,1291.5 1079.9,1281.4 1079.6,1280.2 1079.0,1279.0 1075.4,1274.2 1074.1,1273.0 1072.2,1271.9 1071.1,1271.5 1069.9,1271.3 1068.6,1271.5 1067.5,1272.0 1066.6,1272.8 1065.9,1273.9 1065.5,1275.1 1063.3,1288.2 1063.3,1288.3 1063.2,1288.4 1056.8,1294.8 1056.5,1295.0 1050.2,1299.8 1050.1,1299.9 1050.0,1299.9 1043.6,1301.5 1043.5,1301.5 1043.5,1301.4 1041.3,1280.9 1041.0,1279.8 1040.5,1278.8Z" fill="#999999" stroke="#999999" stroke-width="0.8" stroke-linejoin="round"/>
<path d="M248.2 389.6L293.3 389.6M348.1 389.6L399.2 389.6M476.2 389.6L518.0 389.6M590.4 389.6L646.1 389.6M709.3 389.6L729.6 389.6M744.7 389.6L758.5 389.6M825.3 389.6L857.7 389.6M928.5 389.6L973.2 389.6M1034.1 389.6L1073.1 389.6M1144.5 389.6L1175.9 389.6M1248.1 389.6L1297.5 389.6M260.9 1208.0h0M268.4 1207.2h0M275.0 1210.5h0M279.1 1211.3h0M280.7 1221.2h0M277.4 1232.5h0M267.5 1226.2h0M289.8 1066.9h0M289.8 1086.7h0M289.0 1105.7h0M293.1 1110.6h0M288.2 1118.9h0M288.2 1137.1h0M289.0 1194.8h0M289.0 1201.4h0M289.0 1208.0h0M259.3 1069.0h0M258.5 1082.6h0M258.5 1089.2h0M258.5 1095.0h0M255.2 1106.5h0M258.5 1110.6h0M258.5 1115.9h0M258.5 1170.1h0M266.7 1161.0h0M266.7 1167.6h0M357.5 1128.8h0M392.2 1170.1h0M362.5 1259.2h0M353.4 1155.2h0M397.9 1198.1h0M397.9 1203.1h0M397.9 1211.3h0M397.9 1224.5h0M399.6 1229.5h0M400.4 1234.4h0M397.9 1247.7h0M397.9 1255.9h0M355.0 1163.5h0M358.3 1203.1h0M477.8 1091.7h0M477.8 1118.6h0M477.8 1142.8h0M477.8 1148.6h0M477.8 1154.4h0M477.8 1184.1h0M516.2 1128.0h0M514.1 1165.1h0M513.8 1182.5h0M513.8 1187.4h0M513.8 1191.5h0M514.1 1247.7h0M514.1 1251.8h0M477.8 1222.9h0M479.4 1234.4h0M481.9 1240.2h0M478.6 1250.1h0M478.6 1262.5h0M477.8 1275.7h0M485.2 1282.3h0M485.2 1288.9h0M508.3 1267.5h0M519.0 1268.3h0M519.0 1279.0h0M591.7 1227.0h0M590.8 1208.0h0M590.8 1214.6h0M598.6 1196.5h0M595.8 1163.1h0M590.8 1178.3h0M595.8 1181.6h0M604.1 1227.8h0M609.8 1230.3h0M615.6 1231.1h0M610.7 1247.7h0M620.2 1242.7h0M638.7 1162.6h0M638.7 1175.8h0M638.7 1178.3h0M646.1 1252.6h0M758.1 960.2h0M758.1 973.9h0M758.9 976.4h0M758.1 1012.7h0M758.9 1016.0h0M709.8 1133.2h0M727.6 1173.6h0M730.9 1176.1h0M709.8 1199.2h0M709.8 1213.2h0M711.1 1226.4h0M723.1 1209.9h0M750.7 1073.8h0M749.9 1087.0h0M711.9 1260.3h0M852.2 1191.0h0M852.2 1195.1h0M852.2 1214.1h0M852.2 1225.6h0M858.8 1229.7h0M841.5 1239.7h0M852.2 1243.8h0M852.2 1250.4h0M859.6 1258.6h0M845.6 1264.4h0M965.1 1061.9h0M950.2 1137.3h0M950.2 1182.7h0M928.7 1192.6h0M930.9 1204.2h0M950.2 1261.1h0M975.5 1163.7h0M978.3 1177.8h0M960.1 1149.7h0M928.7 1291.6h0M1034.4 1137.3h0M1034.4 1207.5h0M1034.4 1224.0h0M1034.4 1230.6h0M1034.4 1243.8h0M1034.4 1250.4h0M1034.4 1257.0h0M1034.4 1263.6h0M1034.4 1270.2h0M1069.1 1216.5h0M1069.9 1227.3h0M1068.6 1247.1h0M1074.8 1253.7h0M1066.6 1258.6h0M1057.5 1285.0h0M1051.7 1297.4h0M1146.4 1163.7h0M1146.4 1177.8h0M1176.9 1180.2h0M1146.7 1222.3h0M1169.5 1205.0h0M1177.8 1204.2h0M1176.9 1216.5h0M1176.9 1224.0h0M1151.4 1253.7h0M1146.4 1245.4h0M1154.7 1242.1h0M1295.3 1058.1h0M1269.9 1200.5h0M1260.3 1257.0h0M1250.4 1214.1h0M1285.1 1263.6h0M1299.1 1096.0h0M1298.3 1191.0h0M270.0 815.0h0M263.0 812.0h0M282.0 808.0h0M287.0 813.0h0M253.0 815.0h0M275.0 812.0h0M292.0 806.0h0M250.2 807.5h0M250.2 791.9h0M258.5 791.5h0M259.6 777.0h0M259.6 780.3h0M277.9 793.8h0M290.6 787.7h0M291.5 795.2h0M289.3 671.4h0M350.1 796.0h0M355.0 803.4h0M399.6 793.8h0M399.6 813.3h0M494.3 684.9h0M515.4 722.0h0M506.7 787.7h0M515.4 786.1h0M519.9 810.8h0M518.2 819.9h0M501.7 839.7h0M478.6 786.1h0M477.8 795.2h0M477.8 805.1h0M477.8 815.0h0M592.2 718.4h0M592.2 729.1h0M592.2 739.9h0M592.2 747.3h0M592.2 753.9h0M592.2 762.2h0M592.2 768.8h0M592.2 777.0h0M592.2 794.3h0M647.0 753.9h0M616.4 825.7h0M759.4 513.6h0M760.3 544.5h0M760.3 550.3h0M759.8 570.1h0M758.6 601.4h0M759.4 636.6h0M760.3 649.3h0M759.8 660.0h0M760.3 665.0h0M758.9 669.1h0M760.3 671.6h0M760.3 684.8h0M760.3 698.0h0M760.6 714.5h0M713.1 802.0h0M710.7 811.9h0M713.1 823.4h0M713.1 830.0h0M731.7 852.3h0M752.3 745.0h0M749.9 764.8h0M827.5 811.9h0M833.2 820.1h0M839.8 825.1h0M843.5 840.8h0M858.3 828.1h0M859.6 807.8h0M826.3 831.7h0M826.3 838.3h0M826.3 844.9h0M965.9 622.6h0M965.9 639.4h0M974.1 714.5h0M974.6 738.1h0M966.4 758.6h0M975.5 767.7h0M965.9 780.6h0M974.1 779.7h0M968.4 791.3h0M974.1 790.5h0M928.7 815.2h0M971.7 811.1h0M1035.2 704.6h0M1035.2 719.5h0M1035.2 723.6h0M1035.2 740.9h0M1034.9 780.6h0M1034.9 798.7h0M1036.0 817.7h0M1039.3 814.4h0M1074.8 786.3h0M1073.2 792.9h0M1076.5 797.9h0M1074.8 810.3h0M1048.4 838.3h0M1058.3 845.8h0M1146.1 810.6h0M1156.6 839.1h0M1178.1 802.0h0M1178.1 808.6h0M1178.1 815.2h0M1178.1 821.8h0M1299.4 632.0h0M1299.4 643.5h0M1251.6 800.3h0M1251.6 806.9h0M1251.6 791.3h0M1251.2 765.7h0M1251.2 751.6h0M1255.7 744.2h0M1255.0 730.2h0M1263.9 837.5h0M1277.6 829.2h0M1297.5 802.8h0M1297.5 810.2h0M1299.1 819.3h0M1299.9 724.4h0M1299.9 736.0h0M1299.9 740.9h0M1297.5 770.6h0M1291.7 780.5h0M1297.5 783.0h0M1251.2 825.1h0M257.8 322.3h0M287.7 377.6h0M351.2 274.4h0M348.4 291.7h0M492.7 320.2h0M513.7 336.3h0M590.7 164.6h0M590.7 183.6h0M590.7 199.7h0M591.1 345.0h0M589.7 378.6h0M709.6 368.7h0M750.9 289.1h0M752.3 301.3h0M750.5 358.7h0M749.9 375.9h0M757.1 342.2h0M825.6 243.4h0M857.0 342.5h0M964.3 221.2h0M964.3 247.6h0M972.1 354.9h0M972.1 359.0h0M972.5 384.2h0M1033.8 191.9h0M1033.8 216.2h0M1033.8 220.3h0M1033.8 228.6h0M1033.8 231.5h0M1033.8 246.1h0M1033.8 290.5h0M1033.8 348.7h0M1144.6 230.0h0M1176.5 201.4h0M1176.5 254.2h0M1249.8 308.1h0M1249.2 368.6h0M1295.4 56.8h0M1298.0 188.2h0M1298.2 219.6h0M1298.2 248.7h0M1298.2 266.7h0M1297.6 294.5h0M1289.9 327.9h0M1294.7 381.8h0M756.8 57.4h0M756.8 79.4h0M756.8 93.9h0M756.8 142.4h0M756.8 149.0h0M756.8 191.5h0M756.8 233.8h0M758.8 305.1h0M758.8 311.3h0M758.8 318.1h0M758.8 334.0h0M758.8 351.0h0M758.8 355.0h0M758.8 359.4h0M758.8 371.0h0M758.8 377.3h0M758.8 383.5h0M713.3 835.1h0M759.4 727.3h0M755.9 734.8h0M755.6 740.9h0M753.9 745.3h0M751.4 750.5h0M749.9 758.9h0M749.2 765.3h0M753.4 774.0h0M750.3 778.6h0M750.6 786.9h0M753.4 794.1h0M750.2 801.9h0M752.3 807.6h0M748.5 814.7h0M750.9 823.8h0M750.5 828.8h0M747.0 834.8h0M746.7 842.4h0M746.0 852.8h0M734.4 858.7h0M726.7 858.3h0M720.7 856.8h0M717.9 846.2h0M714.2 839.0h0M478.7 791.4h0M517.3 834.6h0M515.5 837.9h0M513.3 842.2h0M514.4 853.0h0M502.7 855.7h0M497.0 857.4h0M492.0 858.8h0M481.1 846.5h0M479.2 840.8h0M479.7 831.6h0M478.0 826.7h0M477.5 817.7h0M479.2 812.7h0M479.3 802.8h0M480.3 798.1h0M476.9 791.5h0M351.6 798.9h0M349.8 798.6h0M399.4 814.7h0M395.6 816.5h0M395.8 820.7h0M394.1 829.9h0M393.9 835.0h0M393.7 844.0h0M386.4 850.2h0M384.1 852.7h0M377.0 856.6h0M366.1 855.7h0M357.7 852.8h0M355.7 844.1h0M356.1 838.2h0M355.3 832.7h0M354.1 825.9h0M352.0 817.0h0M352.5 808.9h0M353.6 802.1h0M597.3 820.7h0M594.6 818.5h0M646.4 798.1h0M642.8 804.5h0M639.1 809.1h0M639.3 817.6h0M640.6 820.9h0M622.9 826.2h0M624.2 819.7h0M624.4 814.3h0M622.3 813.7h0M624.2 813.2h0M622.8 821.2h0M623.2 825.4h0M619.7 834.8h0M617.2 841.4h0M608.0 840.5h0M601.1 835.0h0M599.6 829.0h0M599.4 823.9h0M264.1 823.8h0M258.8 824.7h0M251.6 826.0h0M290.5 821.7h0M283.4 823.8h0M273.1 825.0h0M268.9 820.4h0M286.4 1174.0h0M286.3 1180.5h0M291.5 1151.1h0M286.6 1151.5h0M287.7 1155.5h0M283.1 1166.4h0M712.3 1261.4h0M760.5 1042.9h0M760.2 1044.6h0M758.2 1048.9h0M756.9 1054.2h0M757.2 1062.3h0M756.3 1069.3h0M757.3 1075.3h0M755.3 1084.3h0M754.2 1091.0h0M753.5 1098.4h0M753.5 1103.9h0M752.1 1113.3h0M753.9 1118.5h0M753.2 1128.2h0M749.9 1135.2h0M751.9 1138.9h0M750.8 1148.4h0M748.3 1152.3h0M748.4 1160.7h0M749.8 1166.5h0M751.1 1176.0h0M748.6 1181.0h0M747.4 1191.0h0M749.1 1194.7h0M749.0 1204.5h0M750.1 1211.3h0M750.3 1215.8h0M748.6 1222.7h0M748.4 1231.7h0M749.8 1237.3h0M747.3 1244.6h0M746.9 1254.9h0M750.0 1258.2h0M748.4 1268.9h0M748.8 1275.7h0M747.0 1281.6h0M737.6 1286.4h0M732.4 1285.2h0M721.2 1285.2h0M714.7 1279.4h0M711.9 1271.7h0M712.6 1265.6h0M397.1 1253.2h0M395.7 1259.8h0M392.2 1266.4h0M391.3 1270.8h0M386.5 1281.4h0M379.7 1280.2h0M371.7 1282.0h0M363.0 1278.9h0M359.1 1277.1h0M356.2 1264.7h0M355.4 1259.1h0M356.6 1253.0h0M356.1 1246.4h0M357.1 1235.9h0M358.7 1230.6h0M358.7 1223.3h0M358.0 1216.0h0M357.2 1211.3h0M355.1 1201.4h0M355.5 1193.7h0M355.5 1188.6h0M357.1 1181.5h0M358.3 1176.3h0M356.4 1168.4h0M354.7 1160.8h0M355.0 1157.4h0M353.6 1158.4h0M290.3 1219.1h0M289.8 1220.8h0M288.5 1227.3h0M288.0 1233.9h0M289.4 1241.7h0M283.3 1247.4h0M273.3 1252.1h0M270.0 1255.1h0M261.7 1245.1h0M260.4 1236.6h0M260.2 1231.9h0M261.4 1230.5h0M256.9 1233.7h0M256.8 1237.1h0M257.2 1243.5h0M255.2 1252.7h0M257.8 1257.0h0M255.8 1267.1h0M257.2 1273.9h0M256.9 1279.5h0M248.8 1288.7h0M595.8 1249.9h0M593.8 1244.4h0M594.6 1235.5h0M592.2 1229.9h0M593.1 1227.2h0M645.6 1272.1h0M638.5 1272.0h0M629.1 1270.3h0M623.1 1261.7h0M622.0 1254.8h0M619.4 1252.9h0M618.2 1251.6h0M621.2 1256.0h0M619.1 1263.9h0M617.3 1271.2h0M612.0 1278.7h0M607.4 1279.7h0M596.4 1271.1h0M597.9 1266.6h0M593.4 1256.9h0M853.3 1256.0h0M851.8 1255.8h0M850.7 1263.8h0M845.5 1264.7h0M839.2 1276.2h0M835.5 1276.2h0M825.6 1271.5h0M511.3 1271.5h0M509.7 1270.1h0M508.5 1272.8h0M504.3 1280.6h0M504.3 1286.1h0M500.7 1295.1h0M500.1 1300.0h0M487.8 1301.9h0M486.3 1297.3h0M484.7 1289.8h0M483.4 1283.2h0M479.5 1281.7h0M479.0 1281.2h0M934.1 843.0h0M932.5 844.5h0M972.9 824.8h0M970.4 822.3h0M958.7 822.5h0M956.9 819.2h0M956.4 818.9h0M956.9 823.4h0M953.5 831.0h0M949.8 835.8h0M948.0 839.5h0M949.5 847.4h0M943.8 856.2h0M935.7 846.1h0M1035.3 828.8h0M1075.3 825.3h0M1073.0 829.3h0M1070.1 834.3h0M1070.0 841.2h0M1059.4 849.9h0M1050.3 843.4h0M1048.8 842.3h0M1038.7 836.7h0M1037.2 833.0h0M1250.8 828.6h0M1298.0 832.4h0M1295.7 829.4h0M1288.7 834.0h0M1280.1 835.1h0M1278.9 835.5h0M1275.4 838.3h0M1266.1 844.0h0M1263.1 840.1h0M1254.1 836.6h0M1253.8 832.3h0M1177.7 833.5h0M1174.4 836.1h0M1169.1 841.5h0M1167.3 845.4h0M1164.2 851.0h0M1156.7 855.8h0M1147.9 849.0h0M1145.5 845.3h0M856.9 844.8h0M847.6 841.0h0M848.6 843.3h0M846.6 850.2h0M841.2 858.5h0M830.0 858.0h0M828.6 849.3h0M827.6 842.5h0M825.9 837.3h0M1298.9 1099.1h0M1296.9 1102.0h0M1296.5 1107.7h0M1295.1 1115.2h0M1296.4 1124.4h0M1295.6 1130.7h0M1295.0 1138.8h0M1296.2 1146.1h0M1295.2 1154.4h0M1297.0 1160.8h0M1296.5 1166.2h0M1297.0 1175.4h0M1297.5 1180.9h0M1034.5 1139.6h0M1036.9 1201.1h0M1036.8 1196.5h0M1037.3 1187.8h0M1036.8 1182.7h0M1035.8 1175.4h0M1033.7 1164.7h0M1034.7 1160.6h0M1033.7 1153.1h0M1036.4 1143.4h0M1034.5 1141.1h0M927.9 1291.8h0M927.3 1288.8h0M968.9 1163.3h0M966.2 1152.4h0M968.1 1145.9h0M965.6 1139.2h0M968.2 1133.4h0M965.7 1124.9h0M965.0 1118.0h0M966.3 1109.5h0M966.6 1104.4h0M966.8 1099.4h0M965.5 1091.4h0M964.9 1082.2h0M967.3 1077.3h0M964.7 1075.2h0M965.3 1074.9h0M962.4 1080.6h0M964.3 1084.0h0M964.5 1094.1h0M963.9 1101.8h0M963.7 1105.7h0M964.3 1114.7h0M962.7 1121.7h0M963.7 1128.2h0M962.9 1136.6h0M961.9 1142.2h0M962.4 1147.8h0M963.0 1154.8h0M963.5 1162.1h0M962.0 1171.4h0M963.9 1178.5h0M963.9 1184.3h0M962.8 1191.7h0M962.3 1196.4h0M962.2 1206.3h0M963.6 1214.0h0M964.1 1218.0h0M962.4 1226.4h0M962.9 1233.2h0M963.5 1241.7h0M961.5 1249.4h0M960.3 1254.8h0M962.2 1260.7h0M962.1 1268.1h0M954.5 1276.2h0M949.5 1279.2h0M947.1 1284.7h0M945.4 1289.7h0M945.2 1294.3h0M939.0 1304.0h0M929.0 1298.8h0M929.6 1293.2h0M1175.3 1255.0h0M1179.1 1237.9h0M1176.7 1234.6h0M1178.5 1239.4h0M1178.5 1251.0h0M1249.8 1231.2h0M1250.1 1231.9h0M1299.3 1212.6h0M1298.1 1214.6h0M1296.6 1221.5h0M1297.5 1226.8h0M1296.2 1233.4h0M1293.2 1241.2h0M1295.1 1249.7h0M1292.9 1256.9h0M1288.0 1264.9h0M1284.8 1269.9h0M1284.9 1278.0h0M1282.1 1281.9h0M1278.5 1287.0h0M1270.6 1289.4h0M1271.1 1294.1h0M1257.8 1293.5h0M1252.3 1285.9h0M1251.3 1276.6h0M1252.5 1270.7h0M1250.9 1262.8h0M1250.9 1255.0h0M1252.1 1247.8h0M1250.1 1243.3h0M1251.6 1235.6h0M1150.7 1245.4h0M1148.8 1248.2h0M1177.8 1257.4h0M1172.6 1262.8h0M1171.6 1265.4h0M1170.4 1273.9h0M1167.0 1280.5h0M1166.4 1287.5h0M1167.2 1292.4h0M1155.9 1298.1h0M1153.7 1289.4h0M1155.4 1281.9h0M1154.2 1275.0h0M1152.9 1268.8h0M1155.8 1261.3h0M1153.2 1253.3h0M1152.6 1248.9h0M1036.3 1280.3h0M1070.0 1276.5h0M1069.5 1275.5h0M1069.5 1282.3h0M1065.6 1291.1h0M1060.3 1296.6h0M1053.8 1300.8h0M1042.9 1306.2h0M1040.3 1297.7h0M1038.9 1290.8h0M1037.9 1282.1h0" stroke="#999999" stroke-width="11.0" stroke-linecap="round" fill="none"/>
<line x1="188.0" y1="12.4" x2="188.0" y2="390.8" stroke="#000" stroke-width="3.6" stroke-linecap="round"/>
<line x1="163.3" y1="389.6" x2="189.7" y2="389.6" stroke="#000" stroke-width="3.6" stroke-linecap="round"/>
<g transform="translate(0,402.90) scale(1,1.04)" fill="#000"><text x="122.38" y="0" font-size="37.5" font-weight="bold" font-family='"Liberation Sans", sans-serif' style="font-kerning:none">0</text></g>
<line x1="163.3" y1="311.2" x2="189.7" y2="311.2" stroke="#000" stroke-width="3.6" stroke-linecap="round"/>
<g transform="translate(0,324.55) scale(1,1.04)" fill="#000"><text x="121.89" y="0" font-size="37.5" font-weight="bold" font-family='"Liberation Sans", sans-serif' style="font-kerning:none">5</text></g>
<line x1="163.3" y1="232.9" x2="189.7" y2="232.9" stroke="#000" stroke-width="3.6" stroke-linecap="round"/>
<g transform="translate(0,246.20) scale(1,1.04)" fill="#000"><text x="101.53" y="0" font-size="37.5" font-weight="bold" font-family='"Liberation Sans", sans-serif' style="font-kerning:none"> 0</text><use href="#o1b" transform="translate(101.53,0) scale(0.01831,-0.01831)"/></g>
<line x1="163.3" y1="154.6" x2="189.7" y2="154.6" stroke="#000" stroke-width="3.6" stroke-linecap="round"/>
<g transform="translate(0,167.85) scale(1,1.04)" fill="#000"><text x="101.03" y="0" font-size="37.5" font-weight="bold" font-family='"Liberation Sans", sans-serif' style="font-kerning:none"> 5</text><use href="#o1b" transform="translate(101.03,0) scale(0.01831,-0.01831)"/></g>
<line x1="163.3" y1="76.2" x2="189.7" y2="76.2" stroke="#000" stroke-width="3.6" stroke-linecap="round"/>
<g transform="translate(0,89.50) scale(1,1.04)" fill="#000"><text x="101.53" y="0" font-size="37.5" font-weight="bold" font-family='"Liberation Sans", sans-serif' style="font-kerning:none">20</text></g>
<line x1="187.5" y1="404.8" x2="1353.6" y2="404.8" stroke="#000" stroke-width="3.6" stroke-linecap="round"/>
<line x1="187.5" y1="403.1" x2="187.5" y2="428.6" stroke="#000" stroke-width="3.6" stroke-linecap="round"/>
<line x1="216.9" y1="404.8" x2="216.9" y2="428.6" stroke="#000" stroke-width="3.6" stroke-linecap="round"/>
<g transform="translate(0,452.70) scale(1,1.04)" fill="#000"><text x="198.35" y="0" font-size="37" font-weight="bold" font-family='"Liberation Sans", sans-serif' style="font-kerning:none"> A</text><use href="#o1b" transform="translate(198.35,0) scale(0.01807,-0.01807)"/></g>
<line x1="270.8" y1="404.8" x2="270.8" y2="428.6" stroke="#000" stroke-width="3.6" stroke-linecap="round"/>
<g transform="translate(0,452.70) scale(1,1.04)" fill="#000"><text x="251.60" y="0" font-size="37" font-weight="bold" font-family='"Liberation Sans", sans-serif' style="font-kerning:none"> B</text><use href="#o1b" transform="translate(251.60,0) scale(0.01807,-0.01807)"/></g>
<line x1="321.4" y1="404.8" x2="321.4" y2="428.6" stroke="#000" stroke-width="3.6" stroke-linecap="round"/>
<g transform="translate(0,452.70) scale(1,1.04)" fill="#000"><text x="301.83" y="0" font-size="37" font-weight="bold" font-family='"Liberation Sans", sans-serif' style="font-kerning:none"> D</text><use href="#o1b" transform="translate(301.83,0) scale(0.01807,-0.01807)"/></g>
<line x1="373.9" y1="404.8" x2="373.9" y2="428.6" stroke="#000" stroke-width="3.6" stroke-linecap="round"/>
<g transform="translate(0,452.70) scale(1,1.04)" fill="#000"><text x="354.20" y="0" font-size="37" font-weight="bold" font-family='"Liberation Sans", sans-serif' style="font-kerning:none">2A</text></g>
<line x1="437.7" y1="404.8" x2="437.7" y2="428.6" stroke="#000" stroke-width="3.6" stroke-linecap="round"/>
<g transform="translate(0,452.70) scale(1,1.04)" fill="#000"><text x="417.75" y="0" font-size="37" font-weight="bold" font-family='"Liberation Sans", sans-serif' style="font-kerning:none">2B</text></g>
<line x1="497" y1="404.8" x2="497" y2="428.6" stroke="#000" stroke-width="3.6" stroke-linecap="round"/>
<g transform="translate(0,452.70) scale(1,1.04)" fill="#000"><text x="477.99" y="0" font-size="37" font-weight="bold" font-family='"Liberation Sans", sans-serif' style="font-kerning:none">2D</text></g>
<line x1="554.3" y1="404.8" x2="554.3" y2="428.6" stroke="#000" stroke-width="3.6" stroke-linecap="round"/>
<g transform="translate(0,452.70) scale(1,1.04)" fill="#000"><text x="535.71" y="0" font-size="37" font-weight="bold" font-family='"Liberation Sans", sans-serif' style="font-kerning:none">3A</text></g>
<line x1="618.7" y1="404.8" x2="618.7" y2="428.6" stroke="#000" stroke-width="3.6" stroke-linecap="round"/>
<g transform="translate(0,452.70) scale(1,1.04)" fill="#000"><text x="599.57" y="0" font-size="37" font-weight="bold" font-family='"Liberation Sans", sans-serif' style="font-kerning:none">3B</text></g>
<line x1="677.2" y1="404.8" x2="677.2" y2="428.6" stroke="#000" stroke-width="3.6" stroke-linecap="round"/>
<g transform="translate(0,452.70) scale(1,1.04)" fill="#000"><text x="658.20" y="0" font-size="37" font-weight="bold" font-family='"Liberation Sans", sans-serif' style="font-kerning:none">3D</text></g>
<line x1="733.8" y1="404.8" x2="733.8" y2="428.6" stroke="#000" stroke-width="3.6" stroke-linecap="round"/>
<g transform="translate(0,452.70) scale(1,1.04)" fill="#000"><text x="714.56" y="0" font-size="37" font-weight="bold" font-family='"Liberation Sans", sans-serif' style="font-kerning:none">4A</text></g>
<line x1="792" y1="404.8" x2="792" y2="428.6" stroke="#000" stroke-width="3.6" stroke-linecap="round"/>
<g transform="translate(0,452.70) scale(1,1.04)" fill="#000"><text x="772.61" y="0" font-size="37" font-weight="bold" font-family='"Liberation Sans", sans-serif' style="font-kerning:none">4B</text></g>
<line x1="841.5" y1="404.8" x2="841.5" y2="428.6" stroke="#000" stroke-width="3.6" stroke-linecap="round"/>
<g transform="translate(0,452.70) scale(1,1.04)" fill="#000"><text x="822.25" y="0" font-size="37" font-weight="bold" font-family='"Liberation Sans", sans-serif' style="font-kerning:none">4D</text></g>
<line x1="893.2" y1="404.8" x2="893.2" y2="428.6" stroke="#000" stroke-width="3.6" stroke-linecap="round"/>
<g transform="translate(0,452.70) scale(1,1.04)" fill="#000"><text x="873.27" y="0" font-size="37" font-weight="bold" font-family='"Liberation Sans", sans-serif' style="font-kerning:none">5A</text></g>
<line x1="951.2" y1="404.8" x2="951.2" y2="428.6" stroke="#000" stroke-width="3.6" stroke-linecap="round"/>
<g transform="translate(0,452.70) scale(1,1.04)" fill="#000"><text x="931.92" y="0" font-size="37" font-weight="bold" font-family='"Liberation Sans", sans-serif' style="font-kerning:none">5B</text></g>
<line x1="1004" y1="404.8" x2="1004" y2="428.6" stroke="#000" stroke-width="3.6" stroke-linecap="round"/>
<g transform="translate(0,452.70) scale(1,1.04)" fill="#000"><text x="984.16" y="0" font-size="37" font-weight="bold" font-family='"Liberation Sans", sans-serif' style="font-kerning:none">5D</text></g>
<line x1="1053.5" y1="404.8" x2="1053.5" y2="428.6" stroke="#000" stroke-width="3.6" stroke-linecap="round"/>
<g transform="translate(0,452.70) scale(1,1.04)" fill="#000"><text x="1034.66" y="0" font-size="37" font-weight="bold" font-family='"Liberation Sans", sans-serif' style="font-kerning:none">6A</text></g>
<line x1="1108.6" y1="404.8" x2="1108.6" y2="428.6" stroke="#000" stroke-width="3.6" stroke-linecap="round"/>
<g transform="translate(0,452.70) scale(1,1.04)" fill="#000"><text x="1090.51" y="0" font-size="37" font-weight="bold" font-family='"Liberation Sans", sans-serif' style="font-kerning:none">6B</text></g>
<line x1="1160.8" y1="404.8" x2="1160.8" y2="428.6" stroke="#000" stroke-width="3.6" stroke-linecap="round"/>
<g transform="translate(0,452.70) scale(1,1.04)" fill="#000"><text x="1141.05" y="0" font-size="37" font-weight="bold" font-family='"Liberation Sans", sans-serif' style="font-kerning:none">6D</text></g>
<line x1="1211.5" y1="404.8" x2="1211.5" y2="428.6" stroke="#000" stroke-width="3.6" stroke-linecap="round"/>
<g transform="translate(0,452.70) scale(1,1.04)" fill="#000"><text x="1192.64" y="0" font-size="37" font-weight="bold" font-family='"Liberation Sans", sans-serif' style="font-kerning:none">7A</text></g>
<line x1="1272.7" y1="404.8" x2="1272.7" y2="428.6" stroke="#000" stroke-width="3.6" stroke-linecap="round"/>
<g transform="translate(0,452.70) scale(1,1.04)" fill="#000"><text x="1252.80" y="0" font-size="37" font-weight="bold" font-family='"Liberation Sans", sans-serif' style="font-kerning:none">7B</text></g>
<line x1="1329.8" y1="404.8" x2="1329.8" y2="428.6" stroke="#000" stroke-width="3.6" stroke-linecap="round"/>
<g transform="translate(0,452.70) scale(1,1.04)" fill="#000"><text x="1309.63" y="0" font-size="37" font-weight="bold" font-family='"Liberation Sans", sans-serif' style="font-kerning:none">7D</text></g>
<g transform="translate(0,20.80) scale(1,1.04)" fill="#000"><text x="28.92" y="0" font-size="37" font-weight="bold" font-family='"Liberation Sans", sans-serif' style="font-kerning:none">a</text></g>
<rect x="45.0" y="294.2" width="2.8" height="28.5" fill="#000"/>
<g transform="translate(62,285.20) rotate(-90) scale(1,0.965)"><g transform="translate(0,0.00) scale(1,1)" fill="#000"><text x="0.00" y="0" font-size="57" font-family='"Liberation Sans", sans-serif' style="font-kerning:none">log</text></g></g>
<g transform="translate(71.3,209.20) rotate(-90) scale(1,1.05)"><g transform="translate(0,0.00) scale(1,1)" fill="#000"><text x="0.00" y="0" font-size="40" font-family='"Liberation Sans", sans-serif' style="font-kerning:none"> 0</text><use href="#o1r" transform="translate(0.00,0) scale(0.01953,-0.01953)"/></g></g>
<g transform="translate(60.6,138.80) rotate(-90) scale(1,0.965)"><g transform="translate(0,0.00) scale(1,1)" fill="#000"><text x="0.00" y="0" font-size="57" font-style="italic" font-family='"Liberation Sans", sans-serif' style="font-kerning:none">p</text></g></g>
<path d="M11.5,141.2 Q43.8,179.6 76,141.2 Q43.8,167.0 11.5,141.2 Z" fill="#000"/>
<path d="M11.5,102.6 Q43.8,63.4 76,102.6 Q43.8,76.0 11.5,102.6 Z" fill="#000"/>
<line x1="188.8" y1="484.0" x2="188.8" y2="868.3" stroke="#000" stroke-width="3.6" stroke-linecap="round"/>
<line x1="163.3" y1="867.1" x2="190.5" y2="867.1" stroke="#000" stroke-width="3.6" stroke-linecap="round"/>
<g transform="translate(0,880.40) scale(1,1.04)" fill="#000"><text x="122.38" y="0" font-size="37.5" font-weight="bold" font-family='"Liberation Sans", sans-serif' style="font-kerning:none">0</text></g>
<line x1="163.3" y1="808.3" x2="190.5" y2="808.3" stroke="#000" stroke-width="3.6" stroke-linecap="round"/>
<g transform="translate(0,821.60) scale(1,1.04)" fill="#000"><text x="122.35" y="0" font-size="37.5" font-weight="bold" font-family='"Liberation Sans", sans-serif' style="font-kerning:none">2</text></g>
<line x1="163.3" y1="749.5" x2="190.5" y2="749.5" stroke="#000" stroke-width="3.6" stroke-linecap="round"/>
<g transform="translate(0,762.80) scale(1,1.04)" fill="#000"><text x="121.05" y="0" font-size="37.5" font-weight="bold" font-family='"Liberation Sans", sans-serif' style="font-kerning:none">4</text></g>
<line x1="163.3" y1="690.7" x2="190.5" y2="690.7" stroke="#000" stroke-width="3.6" stroke-linecap="round"/>
<g transform="translate(0,704.00) scale(1,1.04)" fill="#000"><text x="122.20" y="0" font-size="37.5" font-weight="bold" font-family='"Liberation Sans", sans-serif' style="font-kerning:none">6</text></g>
<line x1="163.3" y1="631.9" x2="190.5" y2="631.9" stroke="#000" stroke-width="3.6" stroke-linecap="round"/>
<g transform="translate(0,645.20) scale(1,1.04)" fill="#000"><text x="122.00" y="0" font-size="37.5" font-weight="bold" font-family='"Liberation Sans", sans-serif' style="font-kerning:none">8</text></g>
<line x1="163.3" y1="573.1" x2="190.5" y2="573.1" stroke="#000" stroke-width="3.6" stroke-linecap="round"/>
<g transform="translate(0,586.40) scale(1,1.04)" fill="#000"><text x="101.53" y="0" font-size="37.5" font-weight="bold" font-family='"Liberation Sans", sans-serif' style="font-kerning:none"> 0</text><use href="#o1b" transform="translate(101.53,0) scale(0.01831,-0.01831)"/></g>
<line x1="163.3" y1="514.3" x2="190.5" y2="514.3" stroke="#000" stroke-width="3.6" stroke-linecap="round"/>
<g transform="translate(0,527.60) scale(1,1.04)" fill="#000"><text x="101.49" y="0" font-size="37.5" font-weight="bold" font-family='"Liberation Sans", sans-serif' style="font-kerning:none"> 2</text><use href="#o1b" transform="translate(101.49,0) scale(0.01831,-0.01831)"/></g>
<line x1="187.5" y1="876.0" x2="1353.6" y2="876.0" stroke="#000" stroke-width="3.6" stroke-linecap="round"/>
<line x1="187.5" y1="874.3" x2="187.5" y2="899.5" stroke="#000" stroke-width="3.6" stroke-linecap="round"/>
<line x1="216.9" y1="876.0" x2="216.9" y2="899.5" stroke="#000" stroke-width="3.6" stroke-linecap="round"/>
<g transform="translate(0,924.00) scale(1,1.04)" fill="#000"><text x="198.35" y="0" font-size="37" font-weight="bold" font-family='"Liberation Sans", sans-serif' style="font-kerning:none"> A</text><use href="#o1b" transform="translate(198.35,0) scale(0.01807,-0.01807)"/></g>
<line x1="270.8" y1="876.0" x2="270.8" y2="899.5" stroke="#000" stroke-width="3.6" stroke-linecap="round"/>
<g transform="translate(0,924.00) scale(1,1.04)" fill="#000"><text x="251.60" y="0" font-size="37" font-weight="bold" font-family='"Liberation Sans", sans-serif' style="font-kerning:none"> B</text><use href="#o1b" transform="translate(251.60,0) scale(0.01807,-0.01807)"/></g>
<line x1="321.4" y1="876.0" x2="321.4" y2="899.5" stroke="#000" stroke-width="3.6" stroke-linecap="round"/>
<g transform="translate(0,924.00) scale(1,1.04)" fill="#000"><text x="301.83" y="0" font-size="37" font-weight="bold" font-family='"Liberation Sans", sans-serif' style="font-kerning:none"> D</text><use href="#o1b" transform="translate(301.83,0) scale(0.01807,-0.01807)"/></g>
<line x1="373.9" y1="876.0" x2="373.9" y2="899.5" stroke="#000" stroke-width="3.6" stroke-linecap="round"/>
<g transform="translate(0,924.00) scale(1,1.04)" fill="#000"><text x="354.20" y="0" font-size="37" font-weight="bold" font-family='"Liberation Sans", sans-serif' style="font-kerning:none">2A</text></g>
<line x1="437.7" y1="876.0" x2="437.7" y2="899.5" stroke="#000" stroke-width="3.6" stroke-linecap="round"/>
<g transform="translate(0,924.00) scale(1,1.04)" fill="#000"><text x="417.75" y="0" font-size="37" font-weight="bold" font-family='"Liberation Sans", sans-serif' style="font-kerning:none">2B</text></g>
<line x1="497" y1="876.0" x2="497" y2="899.5" stroke="#000" stroke-width="3.6" stroke-linecap="round"/>
<g transform="translate(0,924.00) scale(1,1.04)" fill="#000"><text x="477.99" y="0" font-size="37" font-weight="bold" font-family='"Liberation Sans", sans-serif' style="font-kerning:none">2D</text></g>
<line x1="554.3" y1="876.0" x2="554.3" y2="899.5" stroke="#000" stroke-width="3.6" stroke-linecap="round"/>
<g transform="translate(0,924.00) scale(1,1.04)" fill="#000"><text x="535.71" y="0" font-size="37" font-weight="bold" font-family='"Liberation Sans", sans-serif' style="font-kerning:none">3A</text></g>
<line x1="618.7" y1="876.0" x2="618.7" y2="899.5" stroke="#000" stroke-width="3.6" stroke-linecap="round"/>
<g transform="translate(0,924.00) scale(1,1.04)" fill="#000"><text x="599.57" y="0" font-size="37" font-weight="bold" font-family='"Liberation Sans", sans-serif' style="font-kerning:none">3B</text></g>
<line x1="677.2" y1="876.0" x2="677.2" y2="899.5" stroke="#000" stroke-width="3.6" stroke-linecap="round"/>
<g transform="translate(0,924.00) scale(1,1.04)" fill="#000"><text x="658.20" y="0" font-size="37" font-weight="bold" font-family='"Liberation Sans", sans-serif' style="font-kerning:none">3D</text></g>
<line x1="733.8" y1="876.0" x2="733.8" y2="899.5" stroke="#000" stroke-width="3.6" stroke-linecap="round"/>
<g transform="translate(0,924.00) scale(1,1.04)" fill="#000"><text x="714.56" y="0" font-size="37" font-weight="bold" font-family='"Liberation Sans", sans-serif' style="font-kerning:none">4A</text></g>
<line x1="792" y1="876.0" x2="792" y2="899.5" stroke="#000" stroke-width="3.6" stroke-linecap="round"/>
<g transform="translate(0,924.00) scale(1,1.04)" fill="#000"><text x="772.61" y="0" font-size="37" font-weight="bold" font-family='"Liberation Sans", sans-serif' style="font-kerning:none">4B</text></g>
<line x1="841.5" y1="876.0" x2="841.5" y2="899.5" stroke="#000" stroke-width="3.6" stroke-linecap="round"/>
<g transform="translate(0,924.00) scale(1,1.04)" fill="#000"><text x="822.25" y="0" font-size="37" font-weight="bold" font-family='"Liberation Sans", sans-serif' style="font-kerning:none">4D</text></g>
<line x1="893.2" y1="876.0" x2="893.2" y2="899.5" stroke="#000" stroke-width="3.6" stroke-linecap="round"/>
<g transform="translate(0,924.00) scale(1,1.04)" fill="#000"><text x="873.27" y="0" font-size="37" font-weight="bold" font-family='"Liberation Sans", sans-serif' style="font-kerning:none">5A</text></g>
<line x1="951.2" y1="876.0" x2="951.2" y2="899.5" stroke="#000" stroke-width="3.6" stroke-linecap="round"/>
<g transform="translate(0,924.00) scale(1,1.04)" fill="#000"><text x="931.92" y="0" font-size="37" font-weight="bold" font-family='"Liberation Sans", sans-serif' style="font-kerning:none">5B</text></g>
<line x1="1004" y1="876.0" x2="1004" y2="899.5" stroke="#000" stroke-width="3.6" stroke-linecap="round"/>
<g transform="translate(0,924.00) scale(1,1.04)" fill="#000"><text x="984.16" y="0" font-size="37" font-weight="bold" font-family='"Liberation Sans", sans-serif' style="font-kerning:none">5D</text></g>
<line x1="1053.5" y1="876.0" x2="1053.5" y2="899.5" stroke="#000" stroke-width="3.6" stroke-linecap="round"/>
<g transform="translate(0,924.00) scale(1,1.04)" fill="#000"><text x="1034.66" y="0" font-size="37" font-weight="bold" font-family='"Liberation Sans", sans-serif' style="font-kerning:none">6A</text></g>
<line x1="1108.6" y1="876.0" x2="1108.6" y2="899.5" stroke="#000" stroke-width="3.6" stroke-linecap="round"/>
<g transform="translate(0,924.00) scale(1,1.04)" fill="#000"><text x="1090.51" y="0" font-size="37" font-weight="bold" font-family='"Liberation Sans", sans-serif' style="font-kerning:none">6B</text></g>
<line x1="1160.8" y1="876.0" x2="1160.8" y2="899.5" stroke="#000" stroke-width="3.6" stroke-linecap="round"/>
<g transform="translate(0,924.00) scale(1,1.04)" fill="#000"><text x="1141.05" y="0" font-size="37" font-weight="bold" font-family='"Liberation Sans", sans-serif' style="font-kerning:none">6D</text></g>
<line x1="1211.5" y1="876.0" x2="1211.5" y2="899.5" stroke="#000" stroke-width="3.6" stroke-linecap="round"/>
<g transform="translate(0,924.00) scale(1,1.04)" fill="#000"><text x="1192.64" y="0" font-size="37" font-weight="bold" font-family='"Liberation Sans", sans-serif' style="font-kerning:none">7A</text></g>
<line x1="1272.7" y1="876.0" x2="1272.7" y2="899.5" stroke="#000" stroke-width="3.6" stroke-linecap="round"/>
<g transform="translate(0,924.00) scale(1,1.04)" fill="#000"><text x="1252.80" y="0" font-size="37" font-weight="bold" font-family='"Liberation Sans", sans-serif' style="font-kerning:none">7B</text></g>
<line x1="1329.8" y1="876.0" x2="1329.8" y2="899.5" stroke="#000" stroke-width="3.6" stroke-linecap="round"/>
<g transform="translate(0,924.00) scale(1,1.04)" fill="#000"><text x="1309.63" y="0" font-size="37" font-weight="bold" font-family='"Liberation Sans", sans-serif' style="font-kerning:none">7D</text></g>
<g transform="translate(0,489.20) scale(1,1.04)" fill="#000"><text x="28.56" y="0" font-size="37" font-weight="bold" font-family='"Liberation Sans", sans-serif' style="font-kerning:none">b</text></g>
<rect x="45.0" y="765.7" width="2.8" height="28.5" fill="#000"/>
<g transform="translate(62,756.70) rotate(-90) scale(1,0.965)"><g transform="translate(0,0.00) scale(1,1)" fill="#000"><text x="0.00" y="0" font-size="57" font-family='"Liberation Sans", sans-serif' style="font-kerning:none">log</text></g></g>
<g transform="translate(71.3,680.70) rotate(-90) scale(1,1.05)"><g transform="translate(0,0.00) scale(1,1)" fill="#000"><text x="0.00" y="0" font-size="40" font-family='"Liberation Sans", sans-serif' style="font-kerning:none"> 0</text><use href="#o1r" transform="translate(0.00,0) scale(0.01953,-0.01953)"/></g></g>
<g transform="translate(60.6,610.30) rotate(-90) scale(1,0.965)"><g transform="translate(0,0.00) scale(1,1)" fill="#000"><text x="0.00" y="0" font-size="57" font-style="italic" font-family='"Liberation Sans", sans-serif' style="font-kerning:none">p</text></g></g>
<path d="M11.5,612.7 Q43.8,651.1 76,612.7 Q43.8,638.5 11.5,612.7 Z" fill="#000"/>
<path d="M11.5,574.1 Q43.8,534.9 76,574.1 Q43.8,547.5 11.5,574.1 Z" fill="#000"/>
<line x1="188.6" y1="951.2" x2="188.6" y2="1332.9" stroke="#000" stroke-width="3.6" stroke-linecap="round"/>
<line x1="163.3" y1="1331.7" x2="190.3" y2="1331.7" stroke="#000" stroke-width="3.6" stroke-linecap="round"/>
<g transform="translate(0,1345.00) scale(1,1.04)" fill="#000"><text x="122.38" y="0" font-size="37.5" font-weight="bold" font-family='"Liberation Sans", sans-serif' style="font-kerning:none">0</text></g>
<line x1="163.3" y1="1231.7" x2="190.3" y2="1231.7" stroke="#000" stroke-width="3.6" stroke-linecap="round"/>
<g transform="translate(0,1245.00) scale(1,1.04)" fill="#000"><text x="121.89" y="0" font-size="37.5" font-weight="bold" font-family='"Liberation Sans", sans-serif' style="font-kerning:none">5</text></g>
<line x1="163.3" y1="1131.7" x2="190.3" y2="1131.7" stroke="#000" stroke-width="3.6" stroke-linecap="round"/>
<g transform="translate(0,1145.00) scale(1,1.04)" fill="#000"><text x="101.53" y="0" font-size="37.5" font-weight="bold" font-family='"Liberation Sans", sans-serif' style="font-kerning:none"> 0</text><use href="#o1b" transform="translate(101.53,0) scale(0.01831,-0.01831)"/></g>
<line x1="163.3" y1="1031.7" x2="190.3" y2="1031.7" stroke="#000" stroke-width="3.6" stroke-linecap="round"/>
<g transform="translate(0,1045.00) scale(1,1.04)" fill="#000"><text x="101.03" y="0" font-size="37.5" font-weight="bold" font-family='"Liberation Sans", sans-serif' style="font-kerning:none"> 5</text><use href="#o1b" transform="translate(101.03,0) scale(0.01831,-0.01831)"/></g>
<line x1="187.5" y1="1342.6" x2="1353.6" y2="1342.6" stroke="#000" stroke-width="3.6" stroke-linecap="round"/>
<line x1="187.5" y1="1340.9" x2="187.5" y2="1365.7" stroke="#000" stroke-width="3.6" stroke-linecap="round"/>
<line x1="216.9" y1="1342.6" x2="216.9" y2="1365.7" stroke="#000" stroke-width="3.6" stroke-linecap="round"/>
<g transform="translate(0,1390.10) scale(1,1.04)" fill="#000"><text x="198.35" y="0" font-size="37" font-weight="bold" font-family='"Liberation Sans", sans-serif' style="font-kerning:none"> A</text><use href="#o1b" transform="translate(198.35,0) scale(0.01807,-0.01807)"/></g>
<line x1="270.8" y1="1342.6" x2="270.8" y2="1365.7" stroke="#000" stroke-width="3.6" stroke-linecap="round"/>
<g transform="translate(0,1390.10) scale(1,1.04)" fill="#000"><text x="251.60" y="0" font-size="37" font-weight="bold" font-family='"Liberation Sans", sans-serif' style="font-kerning:none"> B</text><use href="#o1b" transform="translate(251.60,0) scale(0.01807,-0.01807)"/></g>
<line x1="321.4" y1="1342.6" x2="321.4" y2="1365.7" stroke="#000" stroke-width="3.6" stroke-linecap="round"/>
<g transform="translate(0,1390.10) scale(1,1.04)" fill="#000"><text x="301.83" y="0" font-size="37" font-weight="bold" font-family='"Liberation Sans", sans-serif' style="font-kerning:none"> D</text><use href="#o1b" transform="translate(301.83,0) scale(0.01807,-0.01807)"/></g>
<line x1="373.9" y1="1342.6" x2="373.9" y2="1365.7" stroke="#000" stroke-width="3.6" stroke-linecap="round"/>
<g transform="translate(0,1390.10) scale(1,1.04)" fill="#000"><text x="354.20" y="0" font-size="37" font-weight="bold" font-family='"Liberation Sans", sans-serif' style="font-kerning:none">2A</text></g>
<line x1="437.7" y1="1342.6" x2="437.7" y2="1365.7" stroke="#000" stroke-width="3.6" stroke-linecap="round"/>
<g transform="translate(0,1390.10) scale(1,1.04)" fill="#000"><text x="417.75" y="0" font-size="37" font-weight="bold" font-family='"Liberation Sans", sans-serif' style="font-kerning:none">2B</text></g>
<line x1="497" y1="1342.6" x2="497" y2="1365.7" stroke="#000" stroke-width="3.6" stroke-linecap="round"/>
<g transform="translate(0,1390.10) scale(1,1.04)" fill="#000"><text x="477.99" y="0" font-size="37" font-weight="bold" font-family='"Liberation Sans", sans-serif' style="font-kerning:none">2D</text></g>
<line x1="554.3" y1="1342.6" x2="554.3" y2="1365.7" stroke="#000" stroke-width="3.6" stroke-linecap="round"/>
<g transform="translate(0,1390.10) scale(1,1.04)" fill="#000"><text x="535.71" y="0" font-size="37" font-weight="bold" font-family='"Liberation Sans", sans-serif' style="font-kerning:none">3A</text></g>
<line x1="618.7" y1="1342.6" x2="618.7" y2="1365.7" stroke="#000" stroke-width="3.6" stroke-linecap="round"/>
<g transform="translate(0,1390.10) scale(1,1.04)" fill="#000"><text x="599.57" y="0" font-size="37" font-weight="bold" font-family='"Liberation Sans", sans-serif' style="font-kerning:none">3B</text></g>
<line x1="677.2" y1="1342.6" x2="677.2" y2="1365.7" stroke="#000" stroke-width="3.6" stroke-linecap="round"/>
<g transform="translate(0,1390.10) scale(1,1.04)" fill="#000"><text x="658.20" y="0" font-size="37" font-weight="bold" font-family='"Liberation Sans", sans-serif' style="font-kerning:none">3D</text></g>
<line x1="733.8" y1="1342.6" x2="733.8" y2="1365.7" stroke="#000" stroke-width="3.6" stroke-linecap="round"/>
<g transform="translate(0,1390.10) scale(1,1.04)" fill="#000"><text x="714.56" y="0" font-size="37" font-weight="bold" font-family='"Liberation Sans", sans-serif' style="font-kerning:none">4A</text></g>
<line x1="792" y1="1342.6" x2="792" y2="1365.7" stroke="#000" stroke-width="3.6" stroke-linecap="round"/>
<g transform="translate(0,1390.10) scale(1,1.04)" fill="#000"><text x="772.61" y="0" font-size="37" font-weight="bold" font-family='"Liberation Sans", sans-serif' style="font-kerning:none">4B</text></g>
<line x1="841.5" y1="1342.6" x2="841.5" y2="1365.7" stroke="#000" stroke-width="3.6" stroke-linecap="round"/>
<g transform="translate(0,1390.10) scale(1,1.04)" fill="#000"><text x="822.25" y="0" font-size="37" font-weight="bold" font-family='"Liberation Sans", sans-serif' style="font-kerning:none">4D</text></g>
<line x1="893.2" y1="1342.6" x2="893.2" y2="1365.7" stroke="#000" stroke-width="3.6" stroke-linecap="round"/>
<g transform="translate(0,1390.10) scale(1,1.04)" fill="#000"><text x="873.27" y="0" font-size="37" font-weight="bold" font-family='"Liberation Sans", sans-serif' style="font-kerning:none">5A</text></g>
<line x1="951.2" y1="1342.6" x2="951.2" y2="1365.7" stroke="#000" stroke-width="3.6" stroke-linecap="round"/>
<g transform="translate(0,1390.10) scale(1,1.04)" fill="#000"><text x="931.92" y="0" font-size="37" font-weight="bold" font-family='"Liberation Sans", sans-serif' style="font-kerning:none">5B</text></g>
<line x1="1004" y1="1342.6" x2="1004" y2="1365.7" stroke="#000" stroke-width="3.6" stroke-linecap="round"/>
<g transform="translate(0,1390.10) scale(1,1.04)" fill="#000"><text x="984.16" y="0" font-size="37" font-weight="bold" font-family='"Liberation Sans", sans-serif' style="font-kerning:none">5D</text></g>
<line x1="1053.5" y1="1342.6" x2="1053.5" y2="1365.7" stroke="#000" stroke-width="3.6" stroke-linecap="round"/>
<g transform="translate(0,1390.10) scale(1,1.04)" fill="#000"><text x="1034.66" y="0" font-size="37" font-weight="bold" font-family='"Liberation Sans", sans-serif' style="font-kerning:none">6A</text></g>
<line x1="1108.6" y1="1342.6" x2="1108.6" y2="1365.7" stroke="#000" stroke-width="3.6" stroke-linecap="round"/>
<g transform="translate(0,1390.10) scale(1,1.04)" fill="#000"><text x="1090.51" y="0" font-size="37" font-weight="bold" font-family='"Liberation Sans", sans-serif' style="font-kerning:none">6B</text></g>
<line x1="1160.8" y1="1342.6" x2="1160.8" y2="1365.7" stroke="#000" stroke-width="3.6" stroke-linecap="round"/>
<g transform="translate(0,1390.10) scale(1,1.04)" fill="#000"><text x="1141.05" y="0" font-size="37" font-weight="bold" font-family='"Liberation Sans", sans-serif' style="font-kerning:none">6D</text></g>
<line x1="1211.5" y1="1342.6" x2="1211.5" y2="1365.7" stroke="#000" stroke-width="3.6" stroke-linecap="round"/>
<g transform="translate(0,1390.10) scale(1,1.04)" fill="#000"><text x="1192.64" y="0" font-size="37" font-weight="bold" font-family='"Liberation Sans", sans-serif' style="font-kerning:none">7A</text></g>
<line x1="1272.7" y1="1342.6" x2="1272.7" y2="1365.7" stroke="#000" stroke-width="3.6" stroke-linecap="round"/>
<g transform="translate(0,1390.10) scale(1,1.04)" fill="#000"><text x="1252.80" y="0" font-size="37" font-weight="bold" font-family='"Liberation Sans", sans-serif' style="font-kerning:none">7B</text></g>
<line x1="1329.8" y1="1342.6" x2="1329.8" y2="1365.7" stroke="#000" stroke-width="3.6" stroke-linecap="round"/>
<g transform="translate(0,1390.10) scale(1,1.04)" fill="#000"><text x="1309.63" y="0" font-size="37" font-weight="bold" font-family='"Liberation Sans", sans-serif' style="font-kerning:none">7D</text></g>
<g transform="translate(0,982.10) scale(1,1.04)" fill="#000"><text x="29.15" y="0" font-size="37" font-weight="bold" font-family='"Liberation Sans", sans-serif' style="font-kerning:none">c</text></g>
<rect x="45.0" y="1232.5" width="2.8" height="28.5" fill="#000"/>
<g transform="translate(62,1223.50) rotate(-90) scale(1,0.965)"><g transform="translate(0,0.00) scale(1,1)" fill="#000"><text x="0.00" y="0" font-size="57" font-family='"Liberation Sans", sans-serif' style="font-kerning:none">log</text></g></g>
<g transform="translate(71.3,1147.50) rotate(-90) scale(1,1.05)"><g transform="translate(0,0.00) scale(1,1)" fill="#000"><text x="0.00" y="0" font-size="40" font-family='"Liberation Sans", sans-serif' style="font-kerning:none"> 0</text><use href="#o1r" transform="translate(0.00,0) scale(0.01953,-0.01953)"/></g></g>
<g transform="translate(60.6,1077.10) rotate(-90) scale(1,0.965)"><g transform="translate(0,0.00) scale(1,1)" fill="#000"><text x="0.00" y="0" font-size="57" font-style="italic" font-family='"Liberation Sans", sans-serif' style="font-kerning:none">p</text></g></g>
<path d="M11.5,1079.5 Q43.8,1117.9 76,1079.5 Q43.8,1105.3 11.5,1079.5 Z" fill="#000"/>
<path d="M11.5,1040.9 Q43.8,1001.7 76,1040.9 Q43.8,1014.3 11.5,1040.9 Z" fill="#000"/>
<defs><clipPath id="cO"><circle cx="686.3" cy="1830.5" r="411.0"/></clipPath><clipPath id="cB"><circle cx="811.1" cy="2158.0" r="247.5"/></clipPath><clipPath id="cG"><circle cx="570.5" cy="2162.2" r="199.0"/></clipPath></defs>
<circle cx="686.3" cy="1830.5" r="411.0" fill="#ef9a4c"/>
<circle cx="570.5" cy="2162.2" r="199.0" fill="#74bf73"/>
<circle cx="811.1" cy="2158.0" r="247.5" fill="#4a98cb"/>
<circle cx="570.5" cy="2162.2" r="199.0" fill="#bdb162" clip-path="url(#cO)"/>
<circle cx="811.1" cy="2158.0" r="247.5" fill="#bc9a8e" clip-path="url(#cO)"/>
<circle cx="570.5" cy="2162.2" r="199.0" fill="#70ada3" clip-path="url(#cB)"/>
<g clip-path="url(#cO)"><circle cx="570.5" cy="2162.2" r="199.0" fill="#a9a987" clip-path="url(#cB)"/></g>
<circle cx="686.3" cy="1830.5" r="411.0" fill="none" stroke="#000" stroke-width="2.6"/>
<circle cx="570.5" cy="2162.2" r="199.0" fill="none" stroke="#000" stroke-width="2.6"/>
<circle cx="811.1" cy="2158.0" r="247.5" fill="none" stroke="#000" stroke-width="2.6"/>
<g transform="translate(0,1534.90) scale(1,1.04)" fill="#000"><text x="362.88" y="0" font-size="56.4" font-weight="bold" font-family='"Liberation Sans", sans-serif' style="font-kerning:none">hQTL-ODS, WGS ( 24)</text><use href="#o1b" transform="translate(851.61,0) scale(0.02754,-0.02754)"/></g>
<g transform="translate(0,1821.70) scale(1,1.04)" fill="#000"><text x="656.91" y="0" font-size="56" font-weight="bold" font-family='"Liberation Sans", sans-serif' style="font-kerning:none"> 05</text><use href="#o1b" transform="translate(656.91,0) scale(0.02734,-0.02734)"/></g>
<g transform="translate(0,2065.00) scale(1,1.04)" fill="#000"><text x="505.90" y="0" font-size="56" font-weight="bold" font-family='"Liberation Sans", sans-serif' style="font-kerning:none">3</text></g>
<g transform="translate(0,2134.00) scale(1,1.04)" fill="#800080"><text x="488.48" y="0" font-size="56" font-weight="bold" font-family='"Liberation Sans", sans-serif' style="font-kerning:none">(2)</text></g>
<g transform="translate(0,2108.60) scale(1,1.04)" fill="#000"><text x="655.55" y="0" font-size="56" font-weight="bold" font-family='"Liberation Sans", sans-serif' style="font-kerning:none">5</text></g>
<g transform="translate(0,2172.90) scale(1,1.04)" fill="#800080"><text x="591.28" y="0" font-size="56" font-weight="bold" font-family='"Liberation Sans", sans-serif' style="font-kerning:none">(6)</text></g>
<g transform="translate(0,2172.90) scale(1,1.04)" fill="#0000ff"><text x="676.58" y="0" font-size="56" font-weight="bold" font-family='"Liberation Sans", sans-serif' style="font-kerning:none">(7)</text></g>
<g transform="translate(0,2045.40) scale(1,1.04)" fill="#000"><text x="833.25" y="0" font-size="56" font-weight="bold" font-family='"Liberation Sans", sans-serif' style="font-kerning:none">  </text><use href="#o1b" transform="translate(833.25,0) scale(0.02734,-0.02734)"/><use href="#o1b" transform="translate(864.39,0) scale(0.02734,-0.02734)"/></g>
<g transform="translate(0,2108.60) scale(1,1.04)" fill="#0000ff"><text x="826.48" y="0" font-size="56" font-weight="bold" font-family='"Liberation Sans", sans-serif' style="font-kerning:none">(6)</text></g>
<g transform="translate(0,2294.90) scale(1,1.04)" fill="#800080"><text x="487.20" y="0" font-size="56" font-weight="bold" font-family='"Liberation Sans", sans-serif' style="font-kerning:none">9</text></g>
<g transform="translate(0,2291.80) scale(1,1.04)" fill="#800080"><text x="592.28" y="0" font-size="56" font-weight="bold" font-family='"Liberation Sans", sans-serif' style="font-kerning:none">(2)</text></g>
<g transform="translate(0,2291.80) scale(1,1.04)" fill="#0000ff"><text x="676.88" y="0" font-size="56" font-weight="bold" font-family='"Liberation Sans", sans-serif' style="font-kerning:none">(2)</text></g>
<g transform="translate(0,2326.50) scale(1,1.04)" fill="#0000ff"><text x="836.31" y="0" font-size="56" font-weight="bold" font-family='"Liberation Sans", sans-serif' style="font-kerning:none">22</text></g>
<g transform="translate(0,2463.60) scale(1,1.04)" fill="#000"><text x="-4.00" y="0" font-size="56.5" font-weight="bold" font-family='"Liberation Sans", sans-serif' style="font-kerning:none">hQTL-ODS, SNP chip ( 9)</text><use href="#o1b" transform="translate(598.65,0) scale(0.02759,-0.02759)"/></g>
<g transform="translate(0,2466.60) scale(1,1.04)" fill="#000"><text x="773.05" y="0" font-size="56.5" font-weight="bold" font-family='"Liberation Sans", sans-serif' style="font-kerning:none">hQTL-MSS, SNP chip (37)</text></g>
<g transform="translate(0,1453.90) scale(1,1.04)" fill="#000"><text x="29.68" y="0" font-size="37" font-weight="bold" font-family='"Liberation Sans", sans-serif' style="font-kerning:none">d</text></g>
</svg></body></html>
